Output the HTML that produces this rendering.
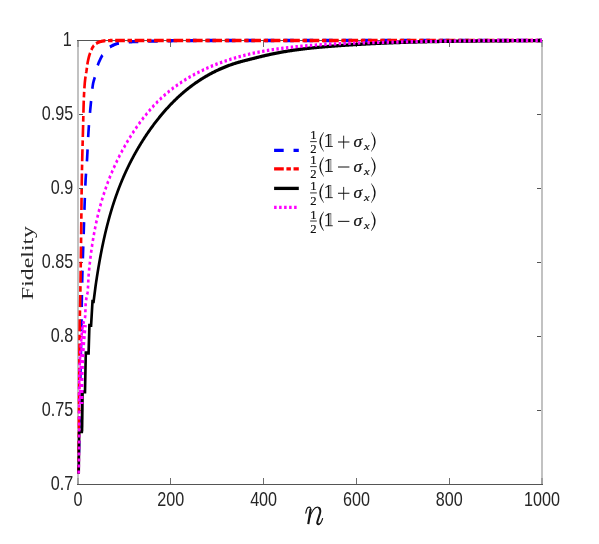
<!DOCTYPE html>
<html><head><meta charset="utf-8"><title>Fidelity</title>
<style>html,body{margin:0;padding:0;background:#fff;}body{width:599px;height:544px;overflow:hidden;font-family:"Liberation Sans",sans-serif;}svg{display:block;will-change:transform;}</style></head>
<body>
<svg width="599" height="544" viewBox="0 0 599 544">
<rect x="0" y="0" width="599" height="544" fill="#fff"/>
<g shape-rendering="crispEdges">
<rect x="77" y="40" width="2" height="445" fill="#c2c2c2"/>
<rect x="541" y="40" width="2" height="445" fill="#c2c2c2"/>
<rect x="77" y="40" width="466" height="1" fill="#555555"/>
<rect x="77" y="484" width="466" height="1" fill="#555555"/>
<rect x="79" y="114" width="4" height="1" fill="#555555"/>
<rect x="537" y="114" width="4" height="1" fill="#555555"/>
<rect x="79" y="188" width="4" height="1" fill="#555555"/>
<rect x="537" y="188" width="4" height="1" fill="#555555"/>
<rect x="79" y="262" width="4" height="1" fill="#555555"/>
<rect x="537" y="262" width="4" height="1" fill="#555555"/>
<rect x="79" y="336" width="4" height="1" fill="#555555"/>
<rect x="537" y="336" width="4" height="1" fill="#555555"/>
<rect x="79" y="410" width="4" height="1" fill="#555555"/>
<rect x="537" y="410" width="4" height="1" fill="#555555"/>
<rect x="77" y="478" width="2" height="6" fill="#a0a0a0"/>
<rect x="77" y="41" width="2" height="6" fill="#a0a0a0"/>
<rect x="170" y="478" width="1" height="6" fill="#6e6e6e"/>
<rect x="170" y="41" width="1" height="6" fill="#6e6e6e"/>
<rect x="263" y="478" width="1" height="6" fill="#6e6e6e"/>
<rect x="263" y="41" width="1" height="6" fill="#6e6e6e"/>
<rect x="356" y="478" width="1" height="6" fill="#6e6e6e"/>
<rect x="356" y="41" width="1" height="6" fill="#6e6e6e"/>
<rect x="449" y="478" width="1" height="6" fill="#6e6e6e"/>
<rect x="449" y="41" width="1" height="6" fill="#6e6e6e"/>
<rect x="541" y="478" width="2" height="6" fill="#a0a0a0"/>
<rect x="541" y="41" width="2" height="6" fill="#a0a0a0"/>
</g>
<g transform="scale(0.8,1)" fill="none" stroke-width="3.3" stroke-linejoin="miter" stroke-linecap="butt">
<path d="M98.12,473.50 L98.14,472.78 L98.16,472.06 L98.18,471.34 L98.20,470.62 L98.22,469.90 L98.24,469.18 L98.26,468.45 L98.28,467.73 L98.30,467.01 L98.32,466.29 L98.34,465.57 L98.36,464.85 L98.38,464.13 L98.40,463.41 L98.42,462.69 L98.44,461.97 L98.46,461.25 L98.47,460.53 L98.49,459.80 L98.51,459.08 L98.53,458.36 L98.55,457.64 L98.57,456.92 L98.59,456.20 L98.61,455.48 L98.63,454.76 L98.64,454.04 L98.66,453.32 L98.68,452.60 L98.70,451.88 L98.72,451.16 L98.74,450.43 L98.76,449.71 L98.77,448.99 L98.79,448.27 L98.81,447.55 L98.83,446.83 L98.85,446.11 L98.87,445.39 L98.88,444.67 L98.90,443.95 L98.92,443.23 L98.94,442.51 L98.96,441.78 L98.97,441.06 L98.99,440.34 L99.01,439.62 L99.03,438.90 L99.04,438.18 L99.06,437.46 L99.08,436.74 L99.10,436.02 L99.11,435.30 L99.13,434.58 L99.15,433.86 L99.16,433.13 L99.18,432.41 L99.20,431.69 L99.22,430.97 L99.23,430.25 L99.25,429.53 L99.27,428.81 L99.28,428.09 L99.30,427.37 L99.31,426.65 L99.33,425.93 L99.35,425.21 L99.36,424.48 L99.38,423.76 L99.40,423.04 L99.41,422.32 L99.43,421.60 L99.44,420.88 L99.46,420.16 L99.48,419.44 L99.49,418.72 L99.51,418.00 L99.52,417.28 L99.54,416.56 L99.56,415.83 L99.57,415.11 L99.59,414.39 L99.60,413.67 L99.62,412.95 L99.64,412.23 L99.65,411.51 L99.67,410.79 L99.68,410.07 L99.70,409.35 L99.71,408.63 L99.73,407.91 L99.75,407.18 L99.76,406.46 L99.78,405.74 L99.79,405.02 L99.81,404.30 L99.83,403.58 L99.84,402.86 L99.86,402.14 L99.87,401.42 L99.89,400.70 L99.91,399.98 L99.92,399.25 L99.94,398.53 L99.96,397.81 L99.97,397.09 L99.99,396.37 L100.00,395.65 L100.02,394.93 L100.04,394.21 L100.05,393.49 L100.07,392.77 L100.09,392.05 L100.10,391.33 L100.12,390.60 L100.14,389.88 L100.15,389.16 L100.17,388.44 L100.19,387.72 L100.20,387.00 L100.22,386.28 L100.24,385.56 L100.26,384.84 L100.27,384.12 L100.29,383.40 L100.31,382.68 L100.33,381.95 L100.34,381.23 L100.36,380.51 L100.38,379.79 L100.40,379.07 L100.42,378.35 L100.44,377.63 L100.45,376.91 L100.47,376.19 L100.49,375.47 L100.51,374.75 L100.53,374.03 L100.55,373.31 L100.57,372.58 L100.59,371.86 L100.61,371.14 L100.63,370.42 L100.65,369.70 L100.67,368.98 L100.69,368.26 L100.71,367.54 L100.73,366.82 L100.75,366.10 L100.78,365.38 L100.80,364.66 L100.82,363.94 L100.84,363.21 L100.86,362.49 L100.88,361.77 L100.90,361.05 L100.92,360.33 L100.95,359.61 L100.97,358.89 L100.99,358.17 L101.01,357.45 L101.03,356.73 L101.05,356.01 L101.07,355.29 L101.10,354.57 L101.12,353.84 L101.14,353.12 L101.16,352.40 L101.18,351.68 L101.20,350.96 L101.22,350.24 L101.25,349.52 L101.27,348.80 L101.29,348.08 L101.31,347.36 L101.33,346.64 L101.35,345.92 L101.37,345.20 L101.39,344.47 L101.41,343.75 L101.43,343.03 L101.45,342.31 L101.47,341.59 L101.49,340.87 L101.51,340.15 L101.53,339.43 L101.55,338.71 L101.57,337.99 L101.59,337.27 L101.61,336.55 L101.63,335.82 L101.64,335.10 L101.66,334.38 L101.68,333.66 L101.70,332.94 L101.71,332.22 L101.73,331.50 L101.75,330.78 L101.77,330.06 L101.78,329.34 L101.80,328.62 L101.81,327.90 L101.83,327.18 L101.84,326.45 L101.86,325.73 L101.87,325.01 L101.89,324.29 L101.90,323.57 L101.92,322.85 L101.93,322.13 L101.94,321.41 L101.96,320.69 L101.97,319.97 L101.98,319.25 L101.99,318.52 L102.00,317.80 L102.01,317.08 L102.03,316.36 L102.04,315.64 L102.05,314.92 L102.06,314.20 L102.07,313.48 L102.08,312.76 L102.09,312.04 L102.10,311.32 L102.11,310.59 L102.12,309.87 L102.13,309.15 L102.14,308.43 L102.15,307.71 L102.16,306.99 L102.17,306.27 L102.18,305.55 L102.20,304.83 L102.21,304.11 L102.22,303.39 L102.23,302.66 L102.24,301.94 L102.25,301.22 L102.27,300.50 L102.28,299.78 L102.29,299.06 L102.31,298.34 L102.32,297.62 L102.34,296.90 L102.35,296.18 L102.37,295.46 L102.38,294.73 L102.40,294.01 L102.41,293.29 L102.43,292.57 L102.45,291.85 L102.47,291.13 L102.48,290.41 L102.50,289.69 L102.52,288.97 L102.54,288.25 L102.56,287.53 L102.58,286.81 L102.60,286.09 L102.62,285.36 L102.64,284.64 L102.66,283.92 L102.68,283.20 L102.71,282.48 L102.73,281.76 L102.75,281.04 L102.77,280.32 L102.80,279.60 L102.82,278.88 L102.84,278.16 L102.87,277.44 L102.89,276.72 L102.91,276.00 L102.94,275.27 L102.96,274.55 L102.99,273.83 L103.01,273.11 L103.04,272.39 L103.07,271.67 L103.09,270.95 L103.12,270.23 L103.14,269.51 L103.17,268.79 L103.20,268.07 L103.22,267.35 L103.25,266.63 L103.28,265.91 L103.31,265.19 L103.33,264.46 L103.36,263.74 L103.39,263.02 L103.42,262.30 L103.45,261.58 L103.48,260.86 L103.50,260.14 L103.53,259.42 L103.56,258.70 L103.59,257.98 L103.62,257.26 L103.65,256.54 L103.68,255.82 L103.71,255.10 L103.74,254.38 L103.77,253.66 L103.80,252.93 L103.83,252.21 L103.86,251.49 L103.89,250.77 L103.92,250.05 L103.95,249.33 L103.98,248.61 L104.01,247.89 L104.04,247.17 L104.07,246.45 L104.10,245.73 L104.13,245.01 L104.16,244.29 L104.19,243.57 L104.22,242.85 L104.25,242.13 L104.28,241.41 L104.31,240.68 L104.34,239.96 L104.37,239.24 L104.40,238.52 L104.43,237.80 L104.46,237.08 L104.49,236.36 L104.52,235.64 L104.55,234.92 L104.58,234.20 L104.61,233.48 L104.64,232.76 L104.67,232.04 L104.70,231.32 L104.73,230.60 L104.76,229.88 L104.78,229.16 L104.81,228.43 L104.84,227.71 L104.87,226.99 L104.90,226.27 L104.93,225.55 L104.96,224.83 L104.98,224.11 L105.01,223.39 L105.04,222.67 L105.07,221.95 L105.10,221.23 L105.12,220.51 L105.15,219.79 L105.18,219.07 L105.21,218.35 L105.24,217.62 L105.26,216.90 L105.29,216.18 L105.32,215.46 L105.35,214.74 L105.38,214.02 L105.40,213.30 L105.43,212.58 L105.46,211.86 L105.49,211.14 L105.52,210.42 L105.55,209.70 L105.58,208.98 L105.61,208.26 L105.63,207.53 L105.66,206.81 L105.69,206.09 L105.72,205.37 L105.75,204.65 L105.78,203.93 L105.81,203.21 L105.85,202.49 L105.88,201.77 L105.91,201.05 L105.94,200.33 L105.97,199.61 L106.00,198.89 L106.04,198.17 L106.07,197.45 L106.10,196.73 L106.14,196.00 L106.17,195.28 L106.20,194.56 L106.24,193.84 L106.27,193.12 L106.31,192.40 L106.35,191.68 L106.38,190.96 L106.42,190.24 L106.46,189.52 L106.49,188.80 L106.53,188.08 L106.57,187.36 L106.61,186.64 L106.65,185.92 L106.69,185.20 L106.73,184.48 L106.77,183.76 L106.82,183.04 L106.86,182.32 L106.90,181.60 L106.95,180.88 L106.99,180.16 L107.04,179.44 L107.08,178.72 L107.14,178.00 L107.19,177.28 L107.25,176.56 L107.31,175.84 L107.37,175.13 L107.43,174.41 L107.49,173.69 L107.56,172.97 L107.63,172.25 L107.69,171.53 L107.76,170.81 L107.83,170.09 L107.90,169.37 L107.97,168.65 L108.04,167.94 L108.11,167.22 L108.18,166.50 L108.25,165.78 L108.31,165.06 L108.38,164.34 L108.45,163.62 L108.51,162.90 L108.57,162.18 L108.63,161.46 L108.69,160.74 L108.75,160.02 L108.80,159.30 L108.86,158.58 L108.91,157.87 L108.96,157.15 L109.01,156.43 L109.06,155.71 L109.11,154.99 L109.15,154.27 L109.20,153.55 L109.25,152.83 L109.29,152.11 L109.34,151.39 L109.38,150.67 L109.43,149.94 L109.47,149.22 L109.52,148.50 L109.56,147.78 L109.60,147.06 L109.65,146.34 L109.69,145.62 L109.73,144.90 L109.78,144.18 L109.82,143.46 L109.86,142.74 L109.91,142.02 L109.95,141.30 L110.00,140.58 L110.04,139.86 L110.09,139.14 L110.14,138.42 L110.18,137.70 L110.23,136.98 L110.28,136.26 L110.33,135.54 L110.38,134.82 L110.43,134.10 L110.49,133.38 L110.54,132.66 L110.59,131.94 L110.65,131.23 L110.71,130.51 L110.77,129.79 L110.83,129.07 L110.89,128.35 L110.95,127.63 L111.02,126.91 L111.08,126.19 L111.15,125.47 L111.21,124.75 L111.28,124.04 L111.35,123.32 L111.42,122.60 L111.49,121.88 L111.57,121.16 L111.64,120.44 L111.71,119.72 L111.79,119.00 L111.86,118.29 L111.94,117.57 L112.02,116.85 L112.09,116.13 L112.17,115.41 L112.25,114.69 L112.33,113.98 L112.41,113.26 L112.50,112.54 L112.58,111.82 L112.66,111.10 L112.74,110.39 L112.83,109.67 L112.91,108.95 L113.00,108.23 L113.08,107.51 L113.17,106.80 L113.26,106.08 L113.34,105.36 L113.43,104.64 L113.52,103.92 L113.60,103.21 L113.69,102.49 L113.78,101.77 L113.87,101.06 L113.96,100.34 L114.05,99.62 L114.13,98.90 L114.22,98.18 L114.30,97.46 L114.39,96.74 L114.47,96.02 L114.56,95.30 L114.64,94.58 L114.73,93.86 L114.81,93.14 L114.90,92.42 L114.99,91.71 L115.09,90.99 L115.19,90.27 L115.29,89.55 L115.39,88.84 L115.50,88.12 L115.62,87.41 L115.74,86.70 L115.86,85.98 L116.00,85.27 L116.13,84.57 L116.28,83.86 L116.45,83.16 L116.65,82.46 L116.87,81.76 L117.11,81.06 L117.36,80.37 L117.62,79.68 L117.88,78.98 L118.13,78.29 L118.37,77.59 L118.60,76.89 L118.82,76.19 L119.03,75.49 L119.23,74.79 L119.44,74.08 L119.63,73.37 L119.83,72.67 L120.03,71.96 L120.23,71.25 L120.43,70.55 L120.64,69.85 L120.85,69.14 L121.07,68.44 L121.29,67.75 L121.53,67.05 L121.77,66.36 L122.03,65.68 L122.29,65.00 L122.58,64.32 L122.90,63.65 L123.24,62.98 L123.60,62.32 L123.97,61.66 L124.35,61.00 L124.74,60.35 L125.13,59.70 L125.51,59.04 L125.90,58.39 L126.30,57.73 L126.71,57.09 L127.14,56.45 L127.59,55.83 L128.06,55.23 L128.55,54.64 L129.06,54.04 L129.59,53.45 L130.14,52.86 L130.70,52.28 L131.27,51.70 L131.87,51.13 L132.47,50.58 L133.09,50.03 L133.73,49.51 L134.37,49.00 L135.03,48.51 L135.70,48.04 L136.38,47.60 L137.07,47.18 L137.80,46.79 L138.57,46.42 L139.37,46.06 L140.18,45.72 L141.01,45.41 L141.83,45.10 L142.65,44.81 L143.48,44.53 L144.32,44.25 L145.17,43.98 L146.02,43.73 L146.88,43.51 L147.74,43.32 L148.61,43.16 L149.49,43.02 L150.37,42.90 L151.26,42.79 L152.16,42.68 L153.05,42.59 L153.95,42.50 L154.85,42.42 L155.75,42.34 L156.65,42.27 L157.54,42.20 L158.44,42.13 L159.34,42.07 L160.24,42.01 L161.14,41.95 L162.04,41.90 L162.94,41.85 L163.84,41.81 L164.74,41.76 L165.64,41.72 L166.54,41.69 L167.44,41.66 L168.34,41.62 L169.24,41.59 L170.14,41.56 L171.04,41.54 L171.94,41.51 L172.84,41.48 L173.74,41.46 L174.64,41.43 L175.54,41.41 L176.44,41.38 L177.34,41.36 L178.24,41.34 L179.14,41.32 L180.04,41.30 L180.94,41.28 L181.85,41.26 L182.75,41.24 L183.65,41.22 L184.55,41.20 L185.45,41.18 L186.35,41.17 L187.25,41.15 L188.15,41.13 L189.05,41.12 L189.96,41.10 L190.86,41.08 L191.76,41.07 L192.66,41.05 L193.56,41.04 L194.46,41.02 L195.36,41.01 L196.26,40.99 L197.16,40.98 L198.06,40.96 L198.97,40.95 L199.87,40.93 L200.77,40.92 L201.67,40.91 L202.57,40.89 L203.47,40.88 L204.37,40.87 L205.27,40.85 L206.17,40.84 L207.07,40.83 L207.98,40.82 L208.88,40.81 L209.78,40.80 L210.68,40.78 L211.58,40.77 L212.48,40.76 L213.38,40.75 L214.28,40.74 L215.19,40.73 L216.09,40.72 L216.99,40.72 L217.89,40.71 L218.79,40.70 L219.69,40.69 L220.59,40.68 L221.49,40.68 L222.39,40.67 L223.30,40.66 L224.20,40.65 L225.10,40.64 L226.00,40.64 L226.90,40.63 L227.80,40.62 L228.70,40.61 L229.60,40.60 L230.50,40.60 L231.41,40.59 L232.31,40.58 L233.21,40.57 L234.11,40.57 L235.01,40.56 L235.91,40.55 L236.81,40.55 L237.71,40.54 L238.62,40.54 L239.52,40.53 L240.42,40.53 L241.32,40.52 L242.22,40.52 L243.12,40.51 L244.02,40.51 L244.92,40.51 L245.82,40.51 L246.73,40.50 L247.63,40.50 L248.53,40.50 L249.43,40.50 L250.33,40.50 L251.23,40.50 L252.13,40.50 L253.03,40.50 L253.94,40.50 L254.84,40.50 L255.74,40.50 L256.64,40.50 L257.54,40.50 L258.44,40.50 L259.34,40.50 L260.24,40.50 L261.14,40.50 L262.05,40.50 L262.95,40.50 L263.85,40.50 L264.75,40.50 L265.65,40.50 L266.55,40.50 L267.45,40.50 L268.35,40.50 L269.26,40.50 L270.16,40.50 L271.06,40.50 L271.96,40.50 L272.86,40.50 L273.76,40.50 L274.66,40.50 L275.56,40.50 L276.46,40.50 L277.37,40.50 L278.27,40.50 L279.17,40.50 L280.07,40.50 L280.97,40.50 L281.87,40.50 L282.77,40.50 L283.67,40.50 L284.58,40.50 L285.48,40.50 L286.38,40.50 L287.28,40.50 L288.18,40.50 L289.08,40.50 L289.98,40.50 L290.88,40.50 L291.79,40.50 L292.69,40.50 L293.59,40.50 L294.49,40.50 L295.39,40.50 L296.29,40.50 L297.19,40.50 L298.09,40.50 L298.99,40.50 L299.90,40.50 L300.80,40.50 L301.70,40.50 L302.60,40.50 L303.50,40.50 L304.40,40.50 L305.30,40.50 L306.20,40.50 L307.11,40.50 L308.01,40.50 L308.91,40.50 L309.81,40.50 L310.71,40.50 L311.61,40.50 L312.51,40.50 L313.41,40.50 L314.31,40.50 L315.22,40.50 L316.12,40.50 L317.02,40.50 L317.92,40.50 L318.82,40.50 L319.72,40.50 L320.62,40.50 L321.52,40.50 L322.43,40.50 L323.33,40.50 L324.23,40.50 L325.13,40.50 L326.03,40.50 L326.93,40.50 L327.83,40.50 L328.73,40.50 L329.63,40.50 L330.54,40.50 L331.44,40.50 L332.34,40.50 L333.24,40.50 L334.14,40.50 L335.04,40.50 L335.94,40.50 L336.84,40.50 L337.75,40.50 L338.65,40.50 L339.55,40.50 L340.45,40.50 L341.35,40.50 L342.25,40.50 L343.15,40.50 L344.05,40.50 L344.96,40.50 L345.86,40.50 L346.76,40.50 L347.66,40.50 L348.56,40.50 L349.46,40.50 L350.36,40.50 L351.26,40.50 L352.16,40.50 L353.07,40.50 L353.97,40.50 L354.87,40.50 L355.77,40.50 L356.67,40.50 L357.57,40.50 L358.47,40.50 L359.37,40.50 L360.28,40.50 L361.18,40.50 L362.08,40.50 L362.98,40.50 L363.88,40.50 L364.78,40.50 L365.68,40.50 L366.58,40.50 L367.48,40.50 L368.39,40.50 L369.29,40.50 L370.19,40.50 L371.09,40.50 L371.99,40.50 L372.89,40.50 L373.79,40.50 L374.69,40.50 L375.60,40.50 L376.50,40.50 L377.40,40.50 L378.30,40.50 L379.20,40.50 L380.10,40.50 L381.00,40.50 L381.90,40.50 L382.81,40.50 L383.71,40.50 L384.61,40.50 L385.51,40.50 L386.41,40.50 L387.31,40.50 L388.21,40.50 L389.11,40.50 L390.01,40.50 L390.92,40.50 L391.82,40.50 L392.72,40.50 L393.62,40.50 L394.52,40.50 L395.42,40.50 L396.32,40.50 L397.22,40.50 L398.13,40.50 L399.03,40.50 L399.93,40.50 L400.83,40.50 L401.73,40.50 L402.63,40.50 L403.53,40.50 L404.43,40.50 L405.33,40.50 L406.24,40.50 L407.14,40.50 L408.04,40.50 L408.94,40.50 L409.84,40.50 L410.74,40.50 L411.64,40.50 L412.54,40.50 L413.45,40.50 L414.35,40.50 L415.25,40.50 L416.15,40.50 L417.05,40.50 L417.95,40.50 L418.85,40.50 L419.75,40.50 L420.66,40.50 L421.56,40.50 L422.46,40.50 L423.36,40.50 L424.26,40.50 L425.16,40.50 L426.06,40.50 L426.96,40.50 L427.86,40.50 L428.77,40.50 L429.67,40.50 L430.57,40.50 L431.47,40.50 L432.37,40.50 L433.27,40.50 L434.17,40.50 L435.07,40.50 L435.98,40.50 L436.88,40.50 L437.78,40.50 L438.68,40.50 L439.58,40.50 L440.48,40.50 L441.38,40.50 L442.28,40.50 L443.19,40.50 L444.09,40.50 L444.99,40.50 L445.89,40.50 L446.79,40.50 L447.69,40.50 L448.59,40.50 L449.49,40.50 L450.39,40.50 L451.30,40.50 L452.20,40.50 L453.10,40.50 L454.00,40.50 L454.90,40.50 L455.80,40.50 L456.70,40.50 L457.60,40.50 L458.51,40.50 L459.41,40.50 L460.31,40.50 L461.21,40.50 L462.11,40.50 L463.01,40.50 L463.91,40.50 L464.81,40.50 L465.71,40.50 L466.62,40.50 L467.52,40.50 L468.42,40.50 L469.32,40.50 L470.22,40.50 L471.12,40.50 L472.02,40.50 L472.92,40.50 L473.83,40.50 L474.73,40.50 L475.63,40.50 L476.53,40.50 L477.43,40.50 L478.33,40.50 L479.23,40.50 L480.13,40.50 L481.04,40.50 L481.94,40.50 L482.84,40.50 L483.74,40.50 L484.64,40.50 L485.54,40.50 L486.44,40.50 L487.34,40.50 L488.24,40.50 L489.15,40.50 L490.05,40.50 L490.95,40.50 L491.85,40.50 L492.75,40.50 L493.65,40.50 L494.55,40.50 L495.45,40.50 L496.36,40.50 L497.26,40.50 L498.16,40.50 L499.06,40.50 L499.96,40.50 L500.86,40.50 L501.76,40.50 L502.66,40.50 L503.57,40.50 L504.47,40.50 L505.37,40.50 L506.27,40.50 L507.17,40.50 L508.07,40.50 L508.97,40.50 L509.87,40.50 L510.78,40.50 L511.68,40.50 L512.58,40.50 L513.48,40.50 L514.38,40.50 L515.28,40.50 L516.18,40.50 L517.08,40.50 L517.98,40.50 L518.89,40.50 L519.79,40.50 L520.69,40.50 L521.59,40.50 L522.49,40.50 L523.39,40.50 L524.29,40.50 L525.19,40.50 L526.10,40.50 L527.00,40.50 L527.90,40.50 L528.80,40.50 L529.70,40.50 L530.60,40.50 L531.50,40.50 L532.40,40.50 L533.31,40.50 L534.21,40.50 L535.11,40.50 L536.01,40.50 L536.91,40.50 L537.81,40.50 L538.71,40.50 L539.61,40.50 L540.51,40.50 L541.42,40.50 L542.32,40.50 L543.22,40.50 L544.12,40.50 L545.02,40.50 L545.92,40.50 L546.82,40.50 L547.72,40.50 L548.63,40.50 L549.53,40.50 L550.43,40.50 L551.33,40.50 L552.23,40.50 L553.13,40.50 L554.03,40.50 L554.93,40.50 L555.84,40.50 L556.74,40.50 L557.64,40.50 L558.54,40.50 L559.44,40.50 L560.34,40.50 L561.24,40.50 L562.14,40.50 L563.05,40.50 L563.95,40.50 L564.85,40.50 L565.75,40.50 L566.65,40.50 L567.55,40.50 L568.45,40.50 L569.35,40.50 L570.25,40.50 L571.16,40.50 L572.06,40.50 L572.96,40.50 L573.86,40.50 L574.76,40.50 L575.66,40.50 L576.56,40.50 L577.46,40.50 L578.37,40.50 L579.27,40.50 L580.17,40.50 L581.07,40.50 L581.97,40.50 L582.87,40.50 L583.77,40.50 L584.67,40.50 L585.58,40.50 L586.48,40.50 L587.38,40.50 L588.28,40.50 L589.18,40.50 L590.08,40.50 L590.98,40.50 L591.88,40.50 L592.79,40.50 L593.69,40.50 L594.59,40.50 L595.49,40.50 L596.39,40.50 L597.29,40.50 L598.19,40.50 L599.09,40.50 L599.99,40.50 L600.90,40.50 L601.80,40.50 L602.70,40.50 L603.60,40.50 L604.50,40.50 L605.40,40.50 L606.30,40.50 L607.20,40.50 L608.11,40.50 L609.01,40.50 L609.91,40.50 L610.81,40.50 L611.71,40.50 L612.61,40.50 L613.51,40.50 L614.41,40.50 L615.32,40.50 L616.22,40.50 L617.12,40.50 L618.02,40.50 L618.92,40.50 L619.82,40.50 L620.72,40.50 L621.62,40.50 L622.53,40.50 L623.43,40.50 L624.33,40.50 L625.23,40.50 L626.13,40.50 L627.03,40.50 L627.93,40.50 L628.83,40.50 L629.74,40.50 L630.64,40.50 L631.54,40.50 L632.44,40.50 L633.34,40.50 L634.24,40.50 L635.14,40.50 L636.04,40.50 L636.94,40.50 L637.85,40.50 L638.75,40.50 L639.65,40.50 L640.55,40.50 L641.45,40.50 L642.35,40.50 L643.25,40.50 L644.15,40.50 L645.06,40.50 L645.96,40.50 L646.86,40.50 L647.76,40.50 L648.66,40.50 L649.56,40.50 L650.46,40.50 L651.36,40.50 L652.27,40.50 L653.17,40.50 L654.07,40.50 L654.97,40.50 L655.87,40.50 L656.77,40.50 L657.67,40.50 L658.57,40.50 L659.48,40.50 L660.38,40.50 L661.28,40.50 L662.18,40.50 L663.08,40.50 L663.98,40.50 L664.88,40.50 L665.78,40.50 L666.69,40.50 L667.59,40.50 L668.49,40.50 L669.39,40.50 L670.29,40.50 L671.19,40.50 L672.09,40.50 L672.99,40.50 L673.90,40.50 L674.80,40.50 L675.70,40.50 L676.60,40.50 L677.50,40.50" stroke="#0000ff" stroke-dasharray="12 12.3" stroke-dashoffset="3.50"/>
<path d="M98.12,473.50 L98.13,472.77 L98.14,472.03 L98.15,471.30 L98.16,470.57 L98.17,469.84 L98.18,469.10 L98.19,468.37 L98.19,467.64 L98.20,466.90 L98.21,466.17 L98.22,465.44 L98.23,464.70 L98.24,463.97 L98.25,463.24 L98.25,462.51 L98.26,461.77 L98.27,461.04 L98.28,460.31 L98.29,459.57 L98.30,458.84 L98.30,458.11 L98.31,457.38 L98.32,456.64 L98.33,455.91 L98.34,455.18 L98.35,454.44 L98.35,453.71 L98.36,452.98 L98.37,452.24 L98.38,451.51 L98.39,450.78 L98.39,450.05 L98.40,449.31 L98.41,448.58 L98.42,447.85 L98.43,447.11 L98.43,446.38 L98.44,445.65 L98.45,444.91 L98.46,444.18 L98.46,443.45 L98.47,442.72 L98.48,441.98 L98.49,441.25 L98.49,440.52 L98.50,439.78 L98.51,439.05 L98.52,438.32 L98.52,437.59 L98.53,436.85 L98.54,436.12 L98.55,435.39 L98.55,434.65 L98.56,433.92 L98.57,433.19 L98.57,432.45 L98.58,431.72 L98.59,430.99 L98.59,430.26 L98.60,429.52 L98.61,428.79 L98.61,428.06 L98.62,427.32 L98.63,426.59 L98.63,425.86 L98.64,425.12 L98.65,424.39 L98.65,423.66 L98.66,422.93 L98.67,422.19 L98.67,421.46 L98.68,420.73 L98.69,419.99 L98.69,419.26 L98.70,418.53 L98.71,417.80 L98.71,417.06 L98.72,416.33 L98.73,415.60 L98.73,414.86 L98.74,414.13 L98.75,413.40 L98.75,412.66 L98.76,411.93 L98.76,411.20 L98.77,410.47 L98.78,409.73 L98.78,409.00 L98.79,408.27 L98.80,407.53 L98.80,406.80 L98.81,406.07 L98.82,405.33 L98.82,404.60 L98.83,403.87 L98.83,403.14 L98.84,402.40 L98.85,401.67 L98.85,400.94 L98.86,400.20 L98.87,399.47 L98.87,398.74 L98.88,398.01 L98.89,397.27 L98.89,396.54 L98.90,395.81 L98.91,395.07 L98.91,394.34 L98.92,393.61 L98.93,392.87 L98.93,392.14 L98.94,391.41 L98.95,390.68 L98.95,389.94 L98.96,389.21 L98.97,388.48 L98.97,387.74 L98.98,387.01 L98.99,386.28 L98.99,385.54 L99.00,384.81 L99.01,384.08 L99.02,383.35 L99.02,382.61 L99.03,381.88 L99.04,381.15 L99.04,380.41 L99.05,379.68 L99.06,378.95 L99.06,378.22 L99.07,377.48 L99.08,376.75 L99.08,376.02 L99.09,375.28 L99.10,374.55 L99.10,373.82 L99.11,373.08 L99.12,372.35 L99.12,371.62 L99.13,370.89 L99.13,370.15 L99.14,369.42 L99.15,368.69 L99.15,367.95 L99.16,367.22 L99.17,366.49 L99.17,365.75 L99.18,365.02 L99.19,364.29 L99.19,363.56 L99.20,362.82 L99.21,362.09 L99.21,361.36 L99.22,360.62 L99.22,359.89 L99.23,359.16 L99.24,358.42 L99.24,357.69 L99.25,356.96 L99.26,356.23 L99.27,355.49 L99.27,354.76 L99.28,354.03 L99.29,353.29 L99.29,352.56 L99.30,351.83 L99.31,351.09 L99.31,350.36 L99.32,349.63 L99.33,348.90 L99.34,348.16 L99.34,347.43 L99.35,346.70 L99.36,345.96 L99.37,345.23 L99.37,344.50 L99.38,343.77 L99.39,343.03 L99.40,342.30 L99.41,341.57 L99.42,340.83 L99.42,340.10 L99.43,339.37 L99.44,338.63 L99.45,337.90 L99.46,337.17 L99.47,336.44 L99.48,335.70 L99.49,334.97 L99.49,334.24 L99.50,333.50 L99.51,332.77 L99.52,332.04 L99.53,331.31 L99.54,330.57 L99.55,329.84 L99.56,329.11 L99.57,328.37 L99.59,327.64 L99.60,326.91 L99.61,326.17 L99.62,325.44 L99.63,324.71 L99.64,323.98 L99.65,323.24 L99.67,322.51 L99.68,321.78 L99.70,321.04 L99.71,320.31 L99.73,319.58 L99.75,318.85 L99.76,318.11 L99.78,317.38 L99.80,316.65 L99.82,315.91 L99.84,315.18 L99.86,314.45 L99.88,313.72 L99.90,312.98 L99.92,312.25 L99.94,311.52 L99.96,310.79 L99.98,310.05 L100.00,309.32 L100.02,308.59 L100.04,307.85 L100.06,307.12 L100.08,306.39 L100.10,305.66 L100.12,304.92 L100.14,304.19 L100.16,303.46 L100.19,302.72 L100.21,301.99 L100.22,301.26 L100.24,300.53 L100.26,299.79 L100.28,299.06 L100.30,298.33 L100.32,297.59 L100.33,296.86 L100.35,296.13 L100.37,295.40 L100.38,294.66 L100.40,293.93 L100.41,293.20 L100.43,292.46 L100.44,291.73 L100.46,291.00 L100.47,290.27 L100.49,289.53 L100.50,288.80 L100.52,288.07 L100.53,287.33 L100.54,286.60 L100.56,285.87 L100.57,285.14 L100.59,284.40 L100.60,283.67 L100.62,282.94 L100.63,282.20 L100.64,281.47 L100.66,280.74 L100.67,280.01 L100.68,279.27 L100.70,278.54 L100.71,277.81 L100.72,277.07 L100.74,276.34 L100.75,275.61 L100.76,274.87 L100.78,274.14 L100.79,273.41 L100.80,272.68 L100.82,271.94 L100.83,271.21 L100.84,270.48 L100.85,269.74 L100.87,269.01 L100.88,268.28 L100.89,267.55 L100.90,266.81 L100.92,266.08 L100.93,265.35 L100.94,264.61 L100.95,263.88 L100.97,263.15 L100.98,262.42 L100.99,261.68 L101.00,260.95 L101.02,260.22 L101.03,259.48 L101.04,258.75 L101.05,258.02 L101.06,257.28 L101.08,256.55 L101.09,255.82 L101.10,255.09 L101.11,254.35 L101.12,253.62 L101.14,252.89 L101.15,252.15 L101.16,251.42 L101.17,250.69 L101.18,249.96 L101.19,249.22 L101.21,248.49 L101.22,247.76 L101.23,247.02 L101.24,246.29 L101.25,245.56 L101.26,244.82 L101.28,244.09 L101.29,243.36 L101.30,242.63 L101.31,241.89 L101.32,241.16 L101.33,240.43 L101.35,239.69 L101.36,238.96 L101.37,238.23 L101.38,237.50 L101.39,236.76 L101.40,236.03 L101.42,235.30 L101.43,234.56 L101.44,233.83 L101.45,233.10 L101.46,232.37 L101.47,231.63 L101.49,230.90 L101.50,230.17 L101.51,229.43 L101.52,228.70 L101.53,227.97 L101.54,227.23 L101.55,226.50 L101.57,225.77 L101.58,225.04 L101.59,224.30 L101.60,223.57 L101.61,222.84 L101.62,222.10 L101.63,221.37 L101.64,220.64 L101.65,219.91 L101.66,219.17 L101.67,218.44 L101.68,217.71 L101.69,216.97 L101.70,216.24 L101.71,215.51 L101.72,214.77 L101.73,214.04 L101.74,213.31 L101.75,212.58 L101.76,211.84 L101.77,211.11 L101.78,210.38 L101.79,209.64 L101.80,208.91 L101.81,208.18 L101.82,207.45 L101.83,206.71 L101.84,205.98 L101.85,205.25 L101.86,204.51 L101.87,203.78 L101.88,203.05 L101.89,202.31 L101.90,201.58 L101.91,200.85 L101.92,200.12 L101.93,199.38 L101.94,198.65 L101.95,197.92 L101.96,197.18 L101.97,196.45 L101.98,195.72 L102.00,194.99 L102.01,194.25 L102.02,193.52 L102.03,192.79 L102.04,192.05 L102.05,191.32 L102.06,190.59 L102.08,189.85 L102.09,189.12 L102.10,188.39 L102.11,187.66 L102.12,186.92 L102.14,186.19 L102.15,185.46 L102.16,184.72 L102.18,183.99 L102.19,183.26 L102.20,182.53 L102.22,181.79 L102.23,181.06 L102.24,180.33 L102.26,179.59 L102.27,178.86 L102.29,178.13 L102.30,177.40 L102.32,176.66 L102.34,175.93 L102.35,175.20 L102.37,174.46 L102.39,173.73 L102.40,173.00 L102.42,172.27 L102.44,171.53 L102.46,170.80 L102.48,170.07 L102.49,169.33 L102.51,168.60 L102.53,167.87 L102.55,167.14 L102.57,166.40 L102.59,165.67 L102.61,164.94 L102.63,164.20 L102.65,163.47 L102.67,162.74 L102.69,162.01 L102.71,161.27 L102.73,160.54 L102.76,159.81 L102.78,159.07 L102.80,158.34 L102.82,157.61 L102.84,156.88 L102.86,156.14 L102.89,155.41 L102.91,154.68 L102.93,153.95 L102.96,153.21 L102.98,152.48 L103.00,151.75 L103.03,151.01 L103.05,150.28 L103.08,149.55 L103.10,148.82 L103.13,148.08 L103.15,147.35 L103.18,146.62 L103.20,145.89 L103.23,145.15 L103.25,144.42 L103.28,143.69 L103.30,142.95 L103.33,142.22 L103.35,141.49 L103.38,140.76 L103.40,140.02 L103.43,139.29 L103.46,138.56 L103.48,137.83 L103.51,137.09 L103.53,136.36 L103.56,135.63 L103.58,134.90 L103.61,134.16 L103.63,133.43 L103.66,132.70 L103.68,131.96 L103.71,131.23 L103.73,130.50 L103.76,129.77 L103.78,129.03 L103.81,128.30 L103.83,127.57 L103.85,126.83 L103.87,126.10 L103.90,125.37 L103.92,124.64 L103.94,123.90 L103.96,123.17 L103.98,122.44 L104.00,121.70 L104.03,120.97 L104.05,120.24 L104.07,119.51 L104.09,118.77 L104.11,118.04 L104.13,117.31 L104.15,116.57 L104.17,115.84 L104.20,115.11 L104.22,114.38 L104.24,113.64 L104.26,112.91 L104.29,112.18 L104.31,111.44 L104.33,110.71 L104.36,109.98 L104.38,109.25 L104.41,108.51 L104.43,107.78 L104.46,107.05 L104.49,106.32 L104.51,105.58 L104.54,104.85 L104.57,104.12 L104.60,103.39 L104.63,102.65 L104.66,101.92 L104.70,101.19 L104.73,100.46 L104.76,99.72 L104.80,98.99 L104.84,98.26 L104.87,97.53 L104.91,96.79 L104.95,96.06 L105.00,95.33 L105.04,94.60 L105.09,93.86 L105.13,93.13 L105.18,92.40 L105.23,91.67 L105.29,90.94 L105.34,90.20 L105.40,89.47 L105.45,88.74 L105.51,88.01 L105.57,87.28 L105.64,86.55 L105.70,85.82 L105.77,85.09 L105.84,84.36 L105.91,83.63 L105.99,82.90 L106.08,82.17 L106.17,81.44 L106.27,80.71 L106.38,79.98 L106.49,79.25 L106.60,78.52 L106.72,77.80 L106.84,77.07 L106.97,76.34 L107.09,75.62 L107.24,74.89 L107.39,74.17 L107.55,73.45 L107.71,72.73 L107.88,72.01 L108.03,71.28 L108.17,70.56 L108.30,69.83 L108.42,69.11 L108.53,68.38 L108.65,67.65 L108.76,66.92 L108.87,66.19 L108.99,65.47 L109.12,64.74 L109.25,64.02 L109.40,63.30 L109.56,62.58 L109.73,61.85 L109.91,61.14 L110.10,60.42 L110.30,59.70 L110.51,58.99 L110.72,58.27 L110.94,57.56 L111.17,56.85 L111.41,56.15 L111.67,55.44 L111.93,54.74 L112.21,54.04 L112.51,53.35 L112.81,52.66 L113.13,51.97 L113.47,51.28 L113.82,50.60 L114.18,49.92 L114.56,49.25 L114.97,48.60 L115.39,47.95 L115.85,47.32 L116.34,46.70 L116.87,46.08 L117.44,45.50 L118.04,44.97 L118.69,44.47 L119.41,43.99 L120.16,43.55 L120.93,43.17 L121.73,42.83 L122.56,42.50 L123.40,42.20 L124.27,41.93 L125.14,41.69 L126.02,41.50 L126.90,41.33 L127.79,41.17 L128.70,41.02 L129.61,40.89 L130.52,40.78 L131.43,40.70 L132.35,40.65 L133.26,40.62 L134.17,40.60 L135.08,40.57 L136.00,40.55 L136.92,40.54 L137.84,40.52 L138.75,40.51 L139.67,40.50 L140.59,40.50 L141.51,40.50 L142.42,40.50 L143.34,40.50 L144.25,40.50 L145.17,40.50 L146.09,40.50 L147.00,40.50 L147.92,40.50 L148.83,40.50 L149.75,40.50 L150.67,40.50 L151.58,40.50 L152.50,40.50 L153.41,40.50 L154.33,40.50 L155.25,40.50 L156.16,40.50 L157.08,40.50 L158.00,40.50 L158.91,40.50 L159.83,40.50 L160.74,40.50 L161.66,40.50 L162.58,40.50 L163.49,40.50 L164.41,40.50 L165.32,40.50 L166.24,40.50 L167.16,40.50 L168.07,40.50 L168.99,40.50 L169.90,40.50 L170.82,40.50 L171.74,40.50 L172.65,40.50 L173.57,40.50 L174.48,40.50 L175.40,40.50 L176.32,40.50 L177.23,40.50 L178.15,40.50 L179.07,40.50 L179.98,40.50 L180.90,40.50 L181.81,40.50 L182.73,40.50 L183.65,40.50 L184.56,40.50 L185.48,40.50 L186.39,40.50 L187.31,40.50 L188.23,40.50 L189.14,40.50 L190.06,40.50 L190.97,40.50 L191.89,40.50 L192.81,40.50 L193.72,40.50 L194.64,40.50 L195.56,40.50 L196.47,40.50 L197.39,40.50 L198.30,40.50 L199.22,40.50 L200.14,40.50 L201.05,40.50 L201.97,40.50 L202.88,40.50 L203.80,40.50 L204.72,40.50 L205.63,40.50 L206.55,40.50 L207.46,40.50 L208.38,40.50 L209.30,40.50 L210.21,40.50 L211.13,40.50 L212.04,40.50 L212.96,40.50 L213.88,40.50 L214.79,40.50 L215.71,40.50 L216.63,40.50 L217.54,40.50 L218.46,40.50 L219.37,40.50 L220.29,40.50 L221.21,40.50 L222.12,40.50 L223.04,40.50 L223.95,40.50 L224.87,40.50 L225.79,40.50 L226.70,40.50 L227.62,40.50 L228.54,40.50 L229.45,40.50 L230.37,40.50 L231.28,40.50 L232.20,40.50 L233.12,40.50 L234.03,40.50 L234.95,40.50 L235.86,40.50 L236.78,40.50 L237.70,40.50 L238.61,40.50 L239.53,40.50 L240.44,40.50 L241.36,40.50 L242.28,40.50 L243.19,40.50 L244.11,40.50 L245.03,40.50 L245.94,40.50 L246.86,40.50 L247.77,40.50 L248.69,40.50 L249.61,40.50 L250.52,40.50 L251.44,40.50 L252.35,40.50 L253.27,40.50 L254.19,40.50 L255.10,40.50 L256.02,40.50 L256.93,40.50 L257.85,40.50 L258.77,40.50 L259.68,40.50 L260.60,40.50 L261.52,40.50 L262.43,40.50 L263.35,40.50 L264.26,40.50 L265.18,40.50 L266.10,40.50 L267.01,40.50 L267.93,40.50 L268.84,40.50 L269.76,40.50 L270.68,40.50 L271.59,40.50 L272.51,40.50 L273.43,40.50 L274.34,40.50 L275.26,40.50 L276.17,40.50 L277.09,40.50 L278.01,40.50 L278.92,40.50 L279.84,40.50 L280.75,40.50 L281.67,40.50 L282.59,40.50 L283.50,40.50 L284.42,40.50 L285.33,40.50 L286.25,40.50 L287.17,40.50 L288.08,40.50 L289.00,40.50 L289.92,40.50 L290.83,40.50 L291.75,40.50 L292.66,40.50 L293.58,40.50 L294.50,40.50 L295.41,40.50 L296.33,40.50 L297.24,40.50 L298.16,40.50 L299.08,40.50 L299.99,40.50 L300.91,40.50 L301.83,40.50 L302.74,40.50 L303.66,40.50 L304.57,40.50 L305.49,40.50 L306.41,40.50 L307.32,40.50 L308.24,40.50 L309.15,40.50 L310.07,40.50 L310.99,40.50 L311.90,40.50 L312.82,40.50 L313.74,40.50 L314.65,40.50 L315.57,40.50 L316.48,40.50 L317.40,40.50 L318.32,40.50 L319.23,40.50 L320.15,40.50 L321.06,40.50 L321.98,40.50 L322.90,40.50 L323.81,40.50 L324.73,40.50 L325.65,40.50 L326.56,40.50 L327.48,40.50 L328.39,40.50 L329.31,40.50 L330.23,40.50 L331.14,40.50 L332.06,40.50 L332.97,40.50 L333.89,40.50 L334.81,40.50 L335.72,40.50 L336.64,40.50 L337.56,40.50 L338.47,40.50 L339.39,40.50 L340.30,40.50 L341.22,40.50 L342.14,40.50 L343.05,40.50 L343.97,40.50 L344.89,40.50 L345.80,40.50 L346.72,40.50 L347.63,40.50 L348.55,40.50 L349.47,40.50 L350.38,40.50 L351.30,40.50 L352.21,40.50 L353.13,40.50 L354.05,40.50 L354.96,40.50 L355.88,40.50 L356.80,40.50 L357.71,40.50 L358.63,40.50 L359.54,40.50 L360.46,40.50 L361.38,40.50 L362.29,40.50 L363.21,40.50 L364.12,40.50 L365.04,40.50 L365.96,40.50 L366.87,40.50 L367.79,40.50 L368.71,40.50 L369.62,40.50 L370.54,40.50 L371.45,40.50 L372.37,40.50 L373.29,40.50 L374.20,40.50 L375.12,40.50 L376.04,40.50 L376.95,40.50 L377.87,40.50 L378.78,40.50 L379.70,40.50 L380.62,40.50 L381.53,40.50 L382.45,40.50 L383.36,40.50 L384.28,40.50 L385.20,40.50 L386.11,40.50 L387.03,40.50 L387.95,40.50 L388.86,40.50 L389.78,40.50 L390.69,40.50 L391.61,40.50 L392.53,40.50 L393.44,40.50 L394.36,40.50 L395.28,40.50 L396.19,40.50 L397.11,40.50 L398.02,40.50 L398.94,40.50 L399.86,40.50 L400.77,40.50 L401.69,40.50 L402.61,40.50 L403.52,40.50 L404.44,40.50 L405.35,40.50 L406.27,40.50 L407.19,40.50 L408.10,40.50 L409.02,40.50 L409.93,40.50 L410.85,40.50 L411.77,40.50 L412.68,40.50 L413.60,40.50 L414.52,40.50 L415.43,40.50 L416.35,40.50 L417.26,40.50 L418.18,40.50 L419.10,40.50 L420.01,40.50 L420.93,40.50 L421.85,40.50 L422.76,40.50 L423.68,40.50 L424.59,40.50 L425.51,40.50 L426.43,40.50 L427.34,40.50 L428.26,40.50 L429.18,40.50 L430.09,40.50 L431.01,40.50 L431.92,40.50 L432.84,40.50 L433.76,40.50 L434.67,40.50 L435.59,40.50 L436.51,40.50 L437.42,40.50 L438.34,40.50 L439.25,40.50 L440.17,40.50 L441.09,40.50 L442.00,40.50 L442.92,40.50 L443.84,40.50 L444.75,40.50 L445.67,40.50 L446.58,40.50 L447.50,40.50 L448.42,40.50 L449.33,40.50 L450.25,40.50 L451.17,40.50 L452.08,40.50 L453.00,40.50 L453.91,40.50 L454.83,40.50 L455.75,40.50 L456.66,40.50 L457.58,40.50 L458.49,40.50 L459.41,40.50 L460.33,40.50 L461.24,40.50 L462.16,40.50 L463.08,40.50 L463.99,40.50 L464.91,40.50 L465.82,40.50 L466.74,40.50 L467.66,40.50 L468.57,40.50 L469.49,40.50 L470.41,40.50 L471.32,40.50 L472.24,40.50 L473.16,40.50 L474.07,40.50 L474.99,40.50 L475.90,40.50 L476.82,40.50 L477.74,40.50 L478.65,40.50 L479.57,40.50 L480.49,40.50 L481.40,40.50 L482.32,40.50 L483.23,40.50 L484.15,40.50 L485.07,40.50 L485.98,40.50 L486.90,40.50 L487.82,40.50 L488.73,40.50 L489.65,40.50 L490.56,40.50 L491.48,40.50 L492.40,40.50 L493.31,40.50 L494.23,40.50 L495.15,40.50 L496.06,40.50 L496.98,40.50 L497.89,40.50 L498.81,40.50 L499.73,40.50 L500.64,40.50 L501.56,40.50 L502.48,40.50 L503.39,40.50 L504.31,40.50 L505.22,40.50 L506.14,40.50 L507.06,40.50 L507.97,40.50 L508.89,40.50 L509.81,40.50 L510.72,40.50 L511.64,40.50 L512.55,40.50 L513.47,40.50 L514.39,40.50 L515.30,40.50 L516.22,40.50 L517.14,40.50 L518.05,40.50 L518.97,40.50 L519.89,40.50 L520.80,40.50 L521.72,40.50 L522.63,40.50 L523.55,40.50 L524.47,40.50 L525.38,40.50 L526.30,40.50 L527.22,40.50 L528.13,40.50 L529.05,40.50 L529.96,40.50 L530.88,40.50 L531.80,40.50 L532.71,40.50 L533.63,40.50 L534.55,40.50 L535.46,40.50 L536.38,40.50 L537.29,40.50 L538.21,40.50 L539.13,40.50 L540.04,40.50 L540.96,40.50 L541.88,40.50 L542.79,40.50 L543.71,40.50 L544.63,40.50 L545.54,40.50 L546.46,40.50 L547.37,40.50 L548.29,40.50 L549.21,40.50 L550.12,40.50 L551.04,40.50 L551.96,40.50 L552.87,40.50 L553.79,40.50 L554.70,40.50 L555.62,40.50 L556.54,40.50 L557.45,40.50 L558.37,40.50 L559.29,40.50 L560.20,40.50 L561.12,40.50 L562.04,40.50 L562.95,40.50 L563.87,40.50 L564.78,40.50 L565.70,40.50 L566.62,40.50 L567.53,40.50 L568.45,40.50 L569.37,40.50 L570.28,40.50 L571.20,40.50 L572.12,40.50 L573.03,40.50 L573.95,40.50 L574.86,40.50 L575.78,40.50 L576.70,40.50 L577.61,40.50 L578.53,40.50 L579.45,40.50 L580.36,40.50 L581.28,40.50 L582.19,40.50 L583.11,40.50 L584.03,40.50 L584.94,40.50 L585.86,40.50 L586.78,40.50 L587.69,40.50 L588.61,40.50 L589.53,40.50 L590.44,40.50 L591.36,40.50 L592.27,40.50 L593.19,40.50 L594.11,40.50 L595.02,40.50 L595.94,40.50 L596.86,40.50 L597.77,40.50 L598.69,40.50 L599.61,40.50 L600.52,40.50 L601.44,40.50 L602.35,40.50 L603.27,40.50 L604.19,40.50 L605.10,40.50 L606.02,40.50 L606.94,40.50 L607.85,40.50 L608.77,40.50 L609.69,40.50 L610.60,40.50 L611.52,40.50 L612.43,40.50 L613.35,40.50 L614.27,40.50 L615.18,40.50 L616.10,40.50 L617.02,40.50 L617.93,40.50 L618.85,40.50 L619.77,40.50 L620.68,40.50 L621.60,40.50 L622.52,40.50 L623.43,40.50 L624.35,40.50 L625.26,40.50 L626.18,40.50 L627.10,40.50 L628.01,40.50 L628.93,40.50 L629.85,40.50 L630.76,40.50 L631.68,40.50 L632.60,40.50 L633.51,40.50 L634.43,40.50 L635.34,40.50 L636.26,40.50 L637.18,40.50 L638.09,40.50 L639.01,40.50 L639.93,40.50 L640.84,40.50 L641.76,40.50 L642.68,40.50 L643.59,40.50 L644.51,40.50 L645.43,40.50 L646.34,40.50 L647.26,40.50 L648.17,40.50 L649.09,40.50 L650.01,40.50 L650.92,40.50 L651.84,40.50 L652.76,40.50 L653.67,40.50 L654.59,40.50 L655.51,40.50 L656.42,40.50 L657.34,40.50 L658.25,40.50 L659.17,40.50 L660.09,40.50 L661.00,40.50 L661.92,40.50 L662.84,40.50 L663.75,40.50 L664.67,40.50 L665.59,40.50 L666.50,40.50 L667.42,40.50 L668.34,40.50 L669.25,40.50 L670.17,40.50 L671.08,40.50 L672.00,40.50 L672.92,40.50 L673.83,40.50 L674.75,40.50 L675.67,40.50 L676.58,40.50 L677.50,40.50" stroke="#ff0000" stroke-dasharray="12.1 3.3 5.6 3.3" stroke-dashoffset="3.68"/>
<path d="M98.38,473.50 L99.00,431.50 L102.25,431.50 L103.00,391.80 L106.25,391.80 L107.25,353.00 L110.75,353.00 L111.75,325.40 L113.87,325.40 L115.62,301.50 L117.00,301.50 L119.56,285.50 L119.68,284.86 L119.80,284.22 L119.91,283.58 L120.03,282.94 L120.15,282.30 L120.27,281.66 L120.39,281.01 L120.51,280.37 L120.63,279.73 L120.76,279.09 L120.88,278.45 L121.00,277.81 L121.12,277.17 L121.25,276.53 L121.37,275.89 L121.50,275.24 L121.63,274.60 L121.75,273.96 L121.88,273.32 L122.01,272.68 L122.14,272.04 L122.27,271.39 L122.40,270.75 L122.53,270.11 L122.66,269.47 L122.80,268.83 L122.93,268.19 L123.06,267.54 L123.20,266.90 L123.34,266.26 L123.47,265.62 L123.61,264.98 L123.75,264.34 L123.89,263.70 L124.03,263.05 L124.17,262.41 L124.31,261.77 L124.45,261.13 L124.59,260.49 L124.74,259.85 L124.88,259.21 L125.03,258.57 L125.17,257.93 L125.32,257.28 L125.47,256.64 L125.62,256.00 L125.77,255.36 L125.92,254.72 L126.07,254.08 L126.23,253.44 L126.38,252.80 L126.53,252.16 L126.69,251.52 L126.85,250.88 L127.00,250.24 L127.16,249.60 L127.32,248.96 L127.48,248.32 L127.64,247.68 L127.81,247.04 L127.97,246.41 L128.13,245.77 L128.30,245.13 L128.47,244.49 L128.63,243.85 L128.80,243.21 L128.97,242.58 L129.14,241.94 L129.31,241.30 L129.49,240.66 L129.66,240.03 L129.84,239.39 L130.01,238.75 L130.19,238.12 L130.37,237.48 L130.55,236.84 L130.73,236.21 L130.91,235.57 L131.09,234.94 L131.28,234.30 L131.46,233.66 L131.65,233.03 L131.83,232.40 L132.02,231.76 L132.21,231.13 L132.40,230.49 L132.60,229.86 L132.79,229.23 L132.98,228.59 L133.18,227.96 L133.38,227.33 L133.57,226.70 L133.77,226.06 L133.97,225.43 L134.18,224.80 L134.38,224.17 L134.58,223.54 L134.79,222.91 L135.00,222.28 L135.21,221.65 L135.42,221.02 L135.63,220.39 L135.84,219.76 L136.05,219.13 L136.27,218.50 L136.48,217.87 L136.70,217.25 L136.92,216.62 L137.14,215.99 L137.36,215.37 L137.59,214.74 L137.81,214.11 L138.04,213.49 L138.27,212.86 L138.49,212.24 L138.72,211.61 L138.96,210.99 L139.19,210.37 L139.42,209.74 L139.66,209.12 L139.90,208.50 L140.14,207.88 L140.38,207.25 L140.62,206.63 L140.86,206.01 L141.11,205.39 L141.35,204.77 L141.60,204.15 L141.85,203.53 L142.10,202.91 L142.35,202.29 L142.61,201.68 L142.86,201.06 L143.12,200.44 L143.38,199.83 L143.64,199.21 L143.90,198.59 L144.17,197.98 L144.43,197.36 L144.70,196.75 L144.97,196.14 L145.24,195.52 L145.51,194.91 L145.78,194.30 L146.06,193.69 L146.33,193.07 L146.61,192.46 L146.89,191.85 L147.17,191.24 L147.45,190.63 L147.74,190.03 L148.03,189.42 L148.31,188.81 L148.60,188.20 L148.89,187.60 L149.19,186.99 L149.48,186.38 L149.78,185.78 L150.08,185.18 L150.38,184.57 L150.68,183.97 L150.98,183.37 L151.29,182.76 L151.60,182.16 L151.91,181.56 L152.22,180.96 L152.53,180.36 L152.85,179.76 L153.16,179.16 L153.48,178.56 L153.80,177.97 L154.12,177.37 L154.44,176.77 L154.77,176.18 L155.10,175.58 L155.42,174.99 L155.76,174.39 L156.09,173.80 L156.42,173.21 L156.76,172.62 L157.09,172.03 L157.43,171.43 L157.78,170.84 L158.12,170.26 L158.46,169.67 L158.81,169.08 L159.16,168.49 L159.51,167.90 L159.86,167.32 L160.21,166.73 L160.57,166.15 L160.92,165.56 L161.28,164.98 L161.64,164.40 L162.01,163.82 L162.37,163.23 L162.74,162.65 L163.10,162.07 L163.47,161.50 L163.84,160.92 L164.22,160.34 L164.59,159.76 L164.97,159.19 L165.35,158.61 L165.73,158.03 L166.11,157.46 L166.49,156.89 L166.88,156.31 L167.26,155.74 L167.65,155.17 L168.04,154.60 L168.44,154.03 L168.83,153.46 L169.23,152.89 L169.62,152.33 L170.02,151.76 L170.43,151.19 L170.83,150.63 L171.23,150.06 L171.64,149.50 L172.05,148.94 L172.46,148.38 L172.87,147.82 L173.28,147.25 L173.70,146.70 L174.12,146.14 L174.54,145.58 L174.96,145.02 L175.38,144.46 L175.80,143.91 L176.23,143.35 L176.66,142.80 L177.09,142.25 L177.52,141.70 L177.95,141.14 L178.39,140.59 L178.82,140.04 L179.26,139.50 L179.70,138.95 L180.14,138.40 L180.59,137.85 L181.03,137.31 L181.48,136.76 L181.93,136.22 L182.38,135.68 L182.83,135.14 L183.28,134.59 L183.74,134.05 L184.20,133.52 L184.66,132.98 L185.12,132.44 L185.58,131.90 L186.05,131.37 L186.51,130.83 L186.98,130.30 L187.45,129.77 L187.92,129.23 L188.40,128.70 L188.87,128.17 L189.35,127.64 L189.83,127.12 L190.31,126.59 L190.79,126.06 L191.28,125.54 L191.76,125.01 L192.25,124.49 L192.74,123.97 L193.23,123.45 L193.72,122.93 L194.22,122.41 L194.72,121.89 L195.22,121.37 L195.72,120.86 L196.22,120.34 L196.72,119.83 L197.23,119.32 L197.74,118.81 L198.24,118.30 L198.76,117.79 L199.27,117.28 L199.78,116.77 L200.30,116.27 L200.82,115.76 L201.34,115.26 L201.86,114.76 L202.39,114.26 L202.91,113.76 L203.44,113.26 L203.97,112.77 L204.50,112.27 L205.04,111.78 L205.57,111.29 L206.11,110.80 L206.65,110.31 L207.19,109.82 L207.73,109.34 L208.28,108.85 L208.83,108.37 L209.38,107.89 L209.93,107.41 L210.48,106.93 L211.03,106.45 L211.59,105.97 L212.15,105.50 L212.71,105.03 L213.27,104.56 L213.84,104.09 L214.40,103.62 L214.97,103.15 L215.54,102.69 L216.11,102.22 L216.69,101.76 L217.26,101.30 L217.84,100.85 L218.42,100.39 L219.00,99.93 L219.59,99.48 L220.17,99.03 L220.76,98.58 L221.35,98.13 L221.94,97.69 L222.54,97.24 L223.13,96.80 L223.73,96.36 L224.33,95.92 L224.93,95.48 L225.54,95.05 L226.14,94.62 L226.75,94.18 L227.36,93.76 L227.97,93.33 L228.59,92.90 L229.20,92.48 L229.82,92.06 L230.44,91.64 L231.06,91.22 L231.69,90.80 L232.31,90.39 L232.94,89.98 L233.57,89.57 L234.20,89.16 L234.84,88.76 L235.48,88.35 L236.11,87.95 L236.76,87.55 L237.40,87.16 L238.04,86.76 L238.69,86.37 L239.34,85.98 L239.99,85.59 L240.64,85.20 L241.30,84.82 L241.96,84.44 L242.62,84.06 L243.28,83.68 L243.94,83.30 L244.61,82.93 L245.27,82.56 L245.94,82.19 L246.61,81.82 L247.29,81.46 L247.96,81.10 L248.64,80.74 L249.32,80.38 L250.00,80.03 L250.68,79.67 L251.37,79.32 L252.05,78.98 L252.74,78.63 L253.43,78.29 L254.12,77.95 L254.82,77.61 L255.51,77.27 L256.21,76.94 L256.91,76.61 L257.61,76.28 L258.31,75.95 L259.02,75.63 L259.73,75.30 L260.43,74.99 L261.14,74.67 L261.85,74.35 L262.57,74.04 L263.28,73.73 L264.00,73.43 L264.72,73.12 L265.44,72.82 L266.16,72.52 L266.88,72.22 L267.61,71.93 L268.33,71.64 L269.06,71.35 L269.79,71.06 L270.52,70.78 L271.26,70.50 L271.99,70.22 L272.73,69.94 L273.47,69.67 L274.20,69.40 L274.95,69.13 L275.69,68.87 L276.43,68.60 L277.18,68.34 L277.92,68.09 L278.67,67.83 L279.42,67.58 L280.17,67.33 L280.93,67.09 L281.68,66.84 L282.44,66.60 L283.19,66.36 L283.95,66.13 L284.71,65.89 L285.47,65.66 L286.23,65.44 L287.00,65.21 L287.76,64.99 L288.53,64.77 L289.30,64.56 L290.07,64.34 L290.84,64.13 L291.61,63.93 L292.38,63.72 L293.16,63.52 L293.93,63.32 L294.71,63.13 L295.49,62.94 L296.27,62.75 L297.05,62.56 L297.83,62.38 L298.61,62.19 L299.40,62.02 L300.18,61.84 L300.97,61.67 L301.76,61.49 L302.54,61.32 L303.33,61.16 L304.12,60.99 L304.91,60.83 L305.70,60.66 L306.49,60.50 L307.28,60.34 L308.07,60.18 L308.87,60.02 L309.66,59.86 L310.45,59.70 L311.24,59.54 L312.03,59.39 L312.83,59.23 L313.62,59.07 L314.41,58.91 L315.20,58.75 L315.99,58.59 L316.78,58.43 L317.57,58.27 L318.36,58.11 L319.15,57.95 L319.94,57.79 L320.73,57.63 L321.52,57.48 L322.31,57.32 L323.10,57.16 L323.89,57.00 L324.68,56.84 L325.47,56.69 L326.26,56.53 L327.05,56.38 L327.84,56.23 L328.63,56.08 L329.42,55.93 L330.21,55.78 L331.01,55.63 L331.80,55.48 L332.59,55.34 L333.39,55.19 L334.18,55.05 L334.97,54.91 L335.77,54.77 L336.56,54.63 L337.36,54.49 L338.15,54.35 L338.95,54.21 L339.74,54.08 L340.54,53.94 L341.34,53.81 L342.13,53.68 L342.93,53.55 L343.73,53.42 L344.52,53.29 L345.32,53.16 L346.12,53.04 L346.92,52.91 L347.72,52.79 L348.52,52.67 L349.32,52.55 L350.11,52.43 L350.91,52.31 L351.71,52.19 L352.51,52.08 L353.32,51.96 L354.12,51.85 L354.92,51.74 L355.72,51.63 L356.52,51.52 L357.32,51.41 L358.12,51.31 L358.93,51.20 L359.73,51.10 L360.53,50.99 L361.34,50.89 L362.14,50.79 L362.94,50.69 L363.75,50.59 L364.55,50.50 L365.35,50.40 L366.16,50.30 L366.96,50.21 L367.77,50.12 L368.57,50.03 L369.38,49.94 L370.19,49.85 L370.99,49.76 L371.80,49.67 L372.60,49.58 L373.41,49.50 L374.22,49.41 L375.02,49.33 L375.83,49.25 L376.64,49.17 L377.44,49.09 L378.25,49.01 L379.06,48.93 L379.87,48.85 L380.68,48.77 L381.48,48.70 L382.29,48.62 L383.10,48.55 L383.91,48.47 L384.72,48.40 L385.53,48.33 L386.34,48.26 L387.15,48.19 L387.95,48.12 L388.76,48.05 L389.57,47.98 L390.38,47.91 L391.19,47.85 L392.00,47.78 L392.81,47.72 L393.62,47.65 L394.43,47.59 L395.24,47.53 L396.06,47.46 L396.87,47.40 L397.68,47.34 L398.49,47.28 L399.30,47.22 L400.11,47.16 L400.92,47.10 L401.73,47.05 L402.54,46.99 L403.35,46.93 L404.17,46.87 L404.98,46.82 L405.79,46.76 L406.60,46.71 L407.41,46.65 L408.22,46.60 L409.04,46.55 L409.85,46.49 L410.66,46.44 L411.47,46.39 L412.28,46.34 L413.10,46.29 L413.91,46.23 L414.72,46.18 L415.53,46.13 L416.34,46.08 L417.16,46.03 L417.97,45.98 L418.78,45.94 L419.59,45.89 L420.40,45.84 L421.22,45.79 L422.03,45.74 L422.84,45.70 L423.65,45.65 L424.47,45.60 L425.28,45.56 L426.09,45.51 L426.90,45.46 L427.71,45.42 L428.53,45.37 L429.34,45.33 L430.15,45.28 L430.96,45.24 L431.78,45.20 L432.59,45.15 L433.40,45.11 L434.21,45.07 L435.03,45.02 L435.84,44.98 L436.65,44.94 L437.46,44.90 L438.28,44.86 L439.09,44.82 L439.90,44.77 L440.71,44.73 L441.53,44.69 L442.34,44.65 L443.15,44.61 L443.96,44.57 L444.78,44.54 L445.59,44.50 L446.40,44.46 L447.21,44.42 L448.03,44.38 L448.84,44.34 L449.65,44.31 L450.46,44.27 L451.28,44.23 L452.09,44.20 L452.90,44.16 L453.72,44.12 L454.53,44.09 L455.34,44.05 L456.15,44.02 L456.97,43.98 L457.78,43.95 L458.59,43.91 L459.41,43.88 L460.22,43.84 L461.03,43.81 L461.84,43.78 L462.66,43.74 L463.47,43.71 L464.28,43.68 L465.10,43.65 L465.91,43.62 L466.72,43.58 L467.53,43.55 L468.35,43.52 L469.16,43.49 L469.97,43.46 L470.79,43.43 L471.60,43.40 L472.41,43.37 L473.23,43.34 L474.04,43.31 L474.85,43.28 L475.67,43.25 L476.48,43.22 L477.29,43.19 L478.10,43.16 L478.92,43.14 L479.73,43.11 L480.54,43.08 L481.36,43.05 L482.17,43.03 L482.98,43.00 L483.80,42.97 L484.61,42.95 L485.42,42.92 L486.24,42.89 L487.05,42.87 L487.86,42.84 L488.68,42.82 L489.49,42.79 L490.30,42.77 L491.12,42.74 L491.93,42.72 L492.74,42.69 L493.56,42.67 L494.37,42.65 L495.18,42.62 L496.00,42.60 L496.81,42.58 L497.62,42.55 L498.44,42.53 L499.25,42.51 L500.06,42.49 L500.88,42.46 L501.69,42.44 L502.50,42.42 L503.32,42.40 L504.13,42.38 L504.94,42.36 L505.76,42.33 L506.57,42.31 L507.39,42.29 L508.20,42.27 L509.01,42.25 L509.83,42.23 L510.64,42.21 L511.45,42.19 L512.27,42.17 L513.08,42.16 L513.89,42.14 L514.71,42.12 L515.52,42.10 L516.33,42.08 L517.15,42.06 L517.96,42.04 L518.78,42.03 L519.59,42.01 L520.40,41.99 L521.22,41.97 L522.03,41.96 L522.84,41.94 L523.66,41.92 L524.47,41.91 L525.28,41.89 L526.10,41.87 L526.91,41.86 L527.73,41.84 L528.54,41.83 L529.35,41.81 L530.17,41.79 L530.98,41.78 L531.79,41.76 L532.61,41.75 L533.42,41.73 L534.24,41.72 L535.05,41.71 L535.86,41.69 L536.68,41.68 L537.49,41.66 L538.30,41.65 L539.12,41.64 L539.93,41.62 L540.75,41.61 L541.56,41.59 L542.37,41.58 L543.19,41.57 L544.00,41.56 L544.81,41.54 L545.63,41.53 L546.44,41.52 L547.26,41.51 L548.07,41.49 L548.88,41.48 L549.70,41.47 L550.51,41.46 L551.33,41.45 L552.14,41.43 L552.95,41.42 L553.77,41.41 L554.58,41.40 L555.40,41.39 L556.21,41.38 L557.02,41.37 L557.84,41.36 L558.65,41.35 L559.47,41.34 L560.28,41.33 L561.09,41.32 L561.91,41.31 L562.72,41.30 L563.53,41.29 L564.35,41.28 L565.16,41.27 L565.98,41.26 L566.79,41.25 L567.60,41.24 L568.42,41.23 L569.23,41.22 L570.05,41.21 L570.86,41.20 L571.67,41.19 L572.49,41.19 L573.30,41.18 L574.12,41.17 L574.93,41.16 L575.74,41.15 L576.56,41.14 L577.37,41.14 L578.19,41.13 L579.00,41.12 L579.81,41.11 L580.63,41.11 L581.44,41.10 L582.26,41.09 L583.07,41.08 L583.89,41.08 L584.70,41.07 L585.51,41.06 L586.33,41.05 L587.14,41.05 L587.96,41.04 L588.77,41.03 L589.58,41.03 L590.40,41.02 L591.21,41.01 L592.03,41.01 L592.84,41.00 L593.65,40.99 L594.47,40.99 L595.28,40.98 L596.10,40.98 L596.91,40.97 L597.72,40.96 L598.54,40.96 L599.35,40.95 L600.17,40.95 L600.98,40.94 L601.79,40.93 L602.61,40.93 L603.42,40.92 L604.24,40.92 L605.05,40.91 L605.87,40.91 L606.68,40.90 L607.49,40.90 L608.31,40.89 L609.12,40.89 L609.94,40.88 L610.75,40.88 L611.56,40.87 L612.38,40.87 L613.19,40.86 L614.01,40.86 L614.82,40.85 L615.63,40.85 L616.45,40.84 L617.26,40.84 L618.08,40.83 L618.89,40.83 L619.70,40.82 L620.52,40.82 L621.33,40.81 L622.15,40.81 L622.96,40.80 L623.78,40.80 L624.59,40.79 L625.40,40.79 L626.22,40.79 L627.03,40.78 L627.85,40.78 L628.66,40.77 L629.47,40.77 L630.29,40.76 L631.10,40.76 L631.92,40.75 L632.73,40.75 L633.54,40.75 L634.36,40.74 L635.17,40.74 L635.99,40.73 L636.80,40.73 L637.61,40.72 L638.43,40.72 L639.24,40.72 L640.06,40.71 L640.87,40.71 L641.68,40.70 L642.50,40.70 L643.31,40.69 L644.13,40.69 L644.94,40.69 L645.75,40.68 L646.57,40.68 L647.38,40.67 L648.20,40.67 L649.01,40.67 L649.83,40.66 L650.64,40.66 L651.45,40.65 L652.27,40.65 L653.08,40.64 L653.90,40.64 L654.71,40.63 L655.52,40.63 L656.34,40.63 L657.15,40.62 L657.97,40.62 L658.78,40.61 L659.59,40.61 L660.41,40.60 L661.22,40.60 L662.04,40.59 L662.85,40.59 L663.66,40.58 L664.48,40.58 L665.29,40.58 L666.11,40.57 L666.92,40.57 L667.73,40.56 L668.55,40.56 L669.36,40.55 L670.17,40.55 L670.99,40.54 L671.80,40.54 L672.62,40.53 L673.43,40.53 L674.24,40.52 L675.06,40.52 L675.87,40.51 L676.69,40.51 L677.50,40.50" stroke="#000000"/>
<path d="M102.87,431.5 L103.25,392" stroke="#000000" stroke-width="2.4"/>
<path d="M98.38,473.50 L98.39,473.01 L98.40,472.52 L98.41,472.03 L98.42,471.54 L98.43,471.06 L98.44,470.57 L98.46,470.08 L98.47,469.59 L98.48,469.10 L98.49,468.61 L98.50,468.12 L98.51,467.63 L98.52,467.14 L98.53,466.65 L98.54,466.17 L98.55,465.68 L98.56,465.19 L98.58,464.70 L98.59,464.21 L98.60,463.72 L98.61,463.23 L98.62,462.74 L98.63,462.25 L98.64,461.76 L98.65,461.28 L98.66,460.79 L98.67,460.30 L98.68,459.81 L98.69,459.32 L98.70,458.83 L98.71,458.34 L98.71,457.85 L98.72,457.36 L98.73,456.87 L98.74,456.39 L98.75,455.90 L98.76,455.41 L98.77,454.92 L98.78,454.43 L98.79,453.94 L98.79,453.45 L98.80,452.96 L98.81,452.47 L98.82,451.98 L98.83,451.49 L98.83,451.01 L98.84,450.52 L98.85,450.03 L98.86,449.54 L98.86,449.05 L98.87,448.56 L98.88,448.07 L98.88,447.58 L98.89,447.09 L98.90,446.60 L98.90,446.12 L98.91,445.63 L98.91,445.14 L98.92,444.65 L98.92,444.16 L98.93,443.67 L98.93,443.18 L98.94,442.69 L98.94,442.20 L98.95,441.71 L98.95,441.23 L98.96,440.74 L98.96,440.25 L98.97,439.76 L98.97,439.27 L98.97,438.78 L98.98,438.29 L98.98,437.80 L98.98,437.31 L98.98,436.82 L98.99,436.34 L98.99,435.85 L98.99,435.36 L98.99,434.87 L98.99,434.38 L99.00,433.89 L99.00,433.40 L99.00,432.91 L99.00,432.42 L99.00,431.93 L99.00,431.45 L99.00,430.96 L99.00,430.47 L99.00,429.98 L99.00,429.49 L99.00,429.00 L99.00,428.51 L99.00,428.02 L99.00,427.53 L99.00,427.04 L99.00,426.55 L99.00,426.07 L99.00,425.58 L99.00,425.09 L99.00,424.60 L99.00,424.11 L99.00,423.62 L99.00,423.13 L99.00,422.64 L99.00,422.15 L99.00,421.66 L99.00,421.18 L99.00,420.69 L99.00,420.20 L99.00,419.71 L99.00,419.22 L99.00,418.73 L99.00,418.24 L99.00,417.75 L99.00,417.26 L99.00,416.77 L99.00,416.28 L99.00,415.80 L99.00,415.31 L99.00,414.82 L99.00,414.33 L99.00,413.84 L99.00,413.35 L99.00,412.86 L99.00,412.37 L99.00,411.88 L99.00,411.39 L99.00,410.91 L99.00,410.42 L99.00,409.93 L99.00,409.44 L99.00,408.95 L99.00,408.46 L99.00,407.97 L99.00,407.48 L99.00,406.99 L99.00,406.50 L99.00,406.01 L99.00,405.53 L99.00,405.04 L99.00,404.55 L99.00,404.06 L99.00,403.57 L99.00,403.08 L99.00,402.59 L99.00,402.10 L99.00,401.61 L99.00,401.12 L99.00,400.64 L99.00,400.15 L99.00,399.66 L99.00,399.17 L99.00,398.68 L99.00,398.19 L99.00,397.70 L99.00,397.21 L99.00,396.72 L99.00,396.23 L99.00,395.74 L99.00,395.26 L99.00,394.77 L99.00,394.28 L99.00,393.79 L99.00,393.30 L99.00,392.81 L99.00,392.32 L99.00,391.83 L99.00,391.34 L99.00,390.85 L99.00,390.36 L99.00,389.88 L99.00,389.39 L99.00,388.90 L99.00,388.41 L99.00,387.92 L99.00,387.43 L99.00,386.94 L99.00,386.45 L99.00,385.96 L99.00,385.47 L99.00,384.99 L99.00,384.50 L99.00,384.01 L99.00,383.52 L99.01,383.03 L99.01,382.54 L99.02,382.05 L99.03,381.56 L99.03,381.07 L99.04,380.59 L99.05,380.10 L99.06,379.61 L99.07,379.12 L99.08,378.63 L99.10,378.14 L99.11,377.65 L99.12,377.16 L99.14,376.67 L99.15,376.18 L99.17,375.70 L99.19,375.21 L99.20,374.72 L99.22,374.23 L99.24,373.74 L99.26,373.25 L99.28,372.76 L99.30,372.27 L99.32,371.78 L99.35,371.30 L99.37,370.81 L99.39,370.32 L99.41,369.83 L99.44,369.34 L99.46,368.85 L99.49,368.36 L99.51,367.87 L99.54,367.38 L99.56,366.90 L99.59,366.41 L99.62,365.92 L99.64,365.43 L99.67,364.94 L99.70,364.45 L99.72,363.96 L99.75,363.47 L99.78,362.99 L99.81,362.50 L99.84,362.01 L99.86,361.52 L99.89,361.03 L99.92,360.54 L99.95,360.05 L99.98,359.57 L100.01,359.08 L100.04,358.59 L100.07,358.10 L100.10,357.61 L100.12,357.12 L100.15,356.64 L100.18,356.15 L100.21,355.66 L100.24,355.17 L100.27,354.68 L100.30,354.19 L100.33,353.71 L100.36,353.22 L100.39,352.73 L100.43,352.24 L100.46,351.75 L100.50,351.26 L100.54,350.78 L100.57,350.29 L100.61,349.80 L100.65,349.31 L100.69,348.82 L100.73,348.34 L100.78,347.85 L100.82,347.36 L100.86,346.87 L100.91,346.38 L100.95,345.90 L101.00,345.41 L101.04,344.92 L101.09,344.43 L101.14,343.94 L101.18,343.46 L101.23,342.97 L101.28,342.48 L101.33,341.99 L101.38,341.51 L101.43,341.02 L101.48,340.53 L101.53,340.04 L101.58,339.56 L101.63,339.07 L101.69,338.58 L101.74,338.10 L101.79,337.61 L101.85,337.12 L101.90,336.63 L101.95,336.15 L102.01,335.66 L102.06,335.17 L102.12,334.68 L102.17,334.19 L102.23,333.71 L102.29,333.22 L102.35,332.73 L102.41,332.24 L102.47,331.75 L102.53,331.27 L102.60,330.78 L102.67,330.29 L102.74,329.81 L102.81,329.32 L102.88,328.84 L102.96,328.35 L103.04,327.87 L103.12,327.39 L103.21,326.90 L103.30,326.42 L103.39,325.94 L103.49,325.46 L103.61,324.99 L103.75,324.51 L103.91,324.03 L104.07,323.56 L104.25,323.09 L104.43,322.61 L104.62,322.14 L104.81,321.67 L105.00,321.20 L105.19,320.73 L105.37,320.26 L105.55,319.79 L105.72,319.31 L105.88,318.84 L106.03,318.37 L106.16,317.89 L106.28,317.42 L106.38,316.94 L106.45,316.46 L106.50,315.98 L106.54,315.50 L106.57,315.01 L106.60,314.53 L106.63,314.04 L106.65,313.56 L106.67,313.07 L106.69,312.58 L106.71,312.09 L106.73,311.60 L106.74,311.11 L106.76,310.62 L106.77,310.13 L106.79,309.64 L106.80,309.15 L106.82,308.65 L106.84,308.16 L106.85,307.67 L106.88,307.18 L106.90,306.69 L106.92,306.20 L106.95,305.71 L106.98,305.23 L107.02,304.74 L107.06,304.25 L107.11,303.76 L107.17,303.28 L107.23,302.79 L107.29,302.30 L107.37,301.82 L107.44,301.33 L107.52,300.85 L107.60,300.36 L107.69,299.88 L107.77,299.39 L107.86,298.91 L107.95,298.42 L108.04,297.94 L108.13,297.46 L108.23,296.97 L108.35,296.49 L108.48,296.01 L108.61,295.54 L108.75,295.06 L108.89,294.58 L109.03,294.10 L109.16,293.62 L109.28,293.14 L109.39,292.66 L109.48,292.18 L109.55,291.70 L109.60,291.21 L109.66,290.73 L109.71,290.25 L109.76,289.76 L109.81,289.28 L109.85,288.79 L109.90,288.30 L109.94,287.82 L109.98,287.33 L110.03,286.85 L110.06,286.36 L110.10,285.87 L110.14,285.38 L110.17,284.89 L110.20,284.41 L110.23,283.92 L110.26,283.43 L110.28,282.94 L110.30,282.45 L110.32,281.96 L110.34,281.46 L110.35,280.97 L110.36,280.48 L110.37,279.99 L110.37,279.49 L110.38,279.00 L110.44,278.35 L110.51,277.69 L110.58,277.04 L110.65,276.38 L110.72,275.73 L110.79,275.07 L110.87,274.42 L110.94,273.76 L111.01,273.11 L111.09,272.45 L111.17,271.79 L111.24,271.14 L111.32,270.48 L111.40,269.83 L111.48,269.17 L111.56,268.52 L111.65,267.86 L111.73,267.21 L111.81,266.55 L111.90,265.90 L111.98,265.24 L112.07,264.59 L112.16,263.93 L112.25,263.28 L112.34,262.62 L112.43,261.97 L112.53,261.31 L112.62,260.66 L112.71,260.00 L112.81,259.35 L112.91,258.69 L113.01,258.04 L113.11,257.38 L113.21,256.73 L113.31,256.07 L113.41,255.42 L113.51,254.77 L113.62,254.11 L113.73,253.46 L113.83,252.80 L113.94,252.15 L114.05,251.50 L114.16,250.84 L114.28,250.19 L114.39,249.53 L114.50,248.88 L114.62,248.23 L114.74,247.58 L114.86,246.92 L114.98,246.27 L115.10,245.62 L115.22,244.96 L115.34,244.31 L115.47,243.66 L115.59,243.01 L115.72,242.36 L115.85,241.71 L115.98,241.05 L116.11,240.40 L116.25,239.75 L116.38,239.10 L116.52,238.45 L116.65,237.80 L116.79,237.15 L116.93,236.50 L117.07,235.85 L117.21,235.20 L117.36,234.55 L117.50,233.90 L117.65,233.25 L117.80,232.60 L117.95,231.96 L118.10,231.31 L118.25,230.66 L118.41,230.01 L118.56,229.36 L118.72,228.72 L118.88,228.07 L119.04,227.42 L119.20,226.78 L119.36,226.13 L119.53,225.49 L119.69,224.84 L119.86,224.20 L120.03,223.55 L120.20,222.91 L120.37,222.26 L120.55,221.62 L120.72,220.97 L120.90,220.33 L121.08,219.69 L121.26,219.05 L121.44,218.40 L121.62,217.76 L121.81,217.12 L121.99,216.48 L122.18,215.84 L122.37,215.20 L122.56,214.56 L122.76,213.92 L122.95,213.28 L123.15,212.64 L123.35,212.00 L123.55,211.36 L123.75,210.72 L123.95,210.09 L124.16,209.45 L124.37,208.81 L124.58,208.17 L124.79,207.54 L125.00,206.90 L125.21,206.27 L125.43,205.63 L125.65,205.00 L125.87,204.37 L126.09,203.73 L126.31,203.10 L126.53,202.47 L126.76,201.83 L126.99,201.20 L127.22,200.57 L127.45,199.94 L127.69,199.31 L127.92,198.68 L128.16,198.05 L128.40,197.42 L128.64,196.79 L128.88,196.17 L129.13,195.54 L129.38,194.91 L129.63,194.28 L129.88,193.66 L130.13,193.03 L130.39,192.41 L130.64,191.78 L130.90,191.16 L131.16,190.54 L131.42,189.91 L131.69,189.29 L131.96,188.67 L132.23,188.05 L132.50,187.43 L132.77,186.81 L133.04,186.19 L133.32,185.57 L133.60,184.95 L133.88,184.33 L134.16,183.72 L134.45,183.10 L134.74,182.48 L135.02,181.87 L135.32,181.25 L135.61,180.64 L135.90,180.02 L136.20,179.41 L136.50,178.80 L136.80,178.19 L137.10,177.58 L137.41,176.96 L137.72,176.35 L138.02,175.74 L138.34,175.14 L138.65,174.53 L138.96,173.92 L139.28,173.31 L139.60,172.71 L139.92,172.10 L140.24,171.49 L140.57,170.89 L140.90,170.29 L141.22,169.68 L141.55,169.08 L141.89,168.48 L142.22,167.87 L142.56,167.27 L142.90,166.67 L143.24,166.07 L143.58,165.48 L143.92,164.88 L144.27,164.28 L144.62,163.68 L144.97,163.09 L145.32,162.49 L145.68,161.89 L146.03,161.30 L146.39,160.71 L146.75,160.11 L147.11,159.52 L147.48,158.93 L147.84,158.34 L148.21,157.75 L148.58,157.16 L148.95,156.57 L149.32,155.98 L149.70,155.39 L150.08,154.81 L150.46,154.22 L150.84,153.64 L151.22,153.05 L151.60,152.47 L151.99,151.88 L152.38,151.30 L152.77,150.72 L153.16,150.14 L153.56,149.56 L153.95,148.98 L154.35,148.40 L154.75,147.82 L155.15,147.24 L155.56,146.67 L155.96,146.09 L156.37,145.52 L156.78,144.94 L157.19,144.37 L157.60,143.80 L158.02,143.22 L158.44,142.65 L158.86,142.08 L159.28,141.51 L159.70,140.94 L160.12,140.37 L160.55,139.81 L160.98,139.24 L161.41,138.67 L161.84,138.11 L162.28,137.55 L162.71,136.98 L163.15,136.42 L163.59,135.86 L164.03,135.30 L164.48,134.74 L164.92,134.18 L165.37,133.63 L165.82,133.07 L166.27,132.51 L166.73,131.96 L167.18,131.41 L167.64,130.85 L168.10,130.30 L168.56,129.75 L169.03,129.20 L169.49,128.66 L169.96,128.11 L170.43,127.56 L170.90,127.02 L171.38,126.47 L171.85,125.93 L172.33,125.39 L172.81,124.85 L173.29,124.31 L173.78,123.77 L174.27,123.24 L174.75,122.70 L175.24,122.17 L175.74,121.63 L176.23,121.10 L176.73,120.57 L177.23,120.04 L177.73,119.52 L178.23,118.99 L178.74,118.47 L179.25,117.94 L179.76,117.42 L180.27,116.90 L180.78,116.38 L181.30,115.86 L181.82,115.35 L182.34,114.83 L182.86,114.32 L183.38,113.81 L183.91,113.30 L184.44,112.79 L184.97,112.28 L185.51,111.78 L186.04,111.27 L186.58,110.77 L187.12,110.27 L187.66,109.77 L188.20,109.28 L188.75,108.78 L189.30,108.29 L189.85,107.80 L190.40,107.31 L190.96,106.82 L191.51,106.33 L192.07,105.85 L192.64,105.36 L193.20,104.88 L193.77,104.41 L194.33,103.93 L194.90,103.45 L195.48,102.98 L196.05,102.51 L196.63,102.04 L197.21,101.57 L197.79,101.11 L198.37,100.65 L198.96,100.18 L199.55,99.73 L200.14,99.27 L200.73,98.81 L201.33,98.36 L201.92,97.91 L202.52,97.46 L203.13,97.02 L203.73,96.57 L204.34,96.13 L204.94,95.69 L205.56,95.26 L206.17,94.82 L206.78,94.39 L207.40,93.96 L208.02,93.53 L208.64,93.11 L209.27,92.68 L209.90,92.26 L210.53,91.84 L211.16,91.43 L211.79,91.01 L212.43,90.60 L213.06,90.19 L213.70,89.79 L214.35,89.38 L214.99,88.98 L215.64,88.58 L216.29,88.18 L216.94,87.78 L217.59,87.39 L218.25,87.00 L218.90,86.61 L219.56,86.22 L220.22,85.84 L220.89,85.46 L221.55,85.08 L222.22,84.70 L222.89,84.33 L223.56,83.95 L224.23,83.58 L224.91,83.21 L225.58,82.85 L226.26,82.48 L226.94,82.12 L227.63,81.76 L228.31,81.40 L229.00,81.05 L229.68,80.69 L230.37,80.34 L231.07,79.99 L231.76,79.65 L232.46,79.30 L233.15,78.96 L233.85,78.62 L234.55,78.28 L235.25,77.94 L235.96,77.61 L236.66,77.28 L237.37,76.95 L238.08,76.62 L238.79,76.29 L239.50,75.97 L240.22,75.65 L240.93,75.33 L241.65,75.01 L242.37,74.69 L243.09,74.38 L243.81,74.07 L244.54,73.76 L245.26,73.45 L245.99,73.15 L246.72,72.85 L247.45,72.54 L248.18,72.25 L248.91,71.95 L249.64,71.65 L250.38,71.36 L251.12,71.07 L251.85,70.78 L252.59,70.49 L253.33,70.21 L254.08,69.93 L254.82,69.64 L255.57,69.37 L256.31,69.09 L257.06,68.81 L257.81,68.54 L258.56,68.27 L259.31,68.00 L260.06,67.73 L260.82,67.47 L261.57,67.20 L262.33,66.94 L263.09,66.68 L263.85,66.42 L264.61,66.17 L265.37,65.91 L266.13,65.66 L266.89,65.41 L267.66,65.16 L268.42,64.92 L269.19,64.67 L269.96,64.43 L270.73,64.19 L271.50,63.95 L272.27,63.71 L273.04,63.48 L273.81,63.24 L274.59,63.01 L275.36,62.78 L276.14,62.56 L276.91,62.33 L277.69,62.11 L278.47,61.88 L279.25,61.66 L280.03,61.44 L280.81,61.23 L281.59,61.01 L282.38,60.80 L283.16,60.59 L283.94,60.38 L284.73,60.17 L285.52,59.96 L286.30,59.76 L287.09,59.55 L287.88,59.35 L288.67,59.15 L289.46,58.96 L290.25,58.76 L291.04,58.57 L291.83,58.37 L292.63,58.18 L293.42,57.99 L294.21,57.81 L295.01,57.62 L295.80,57.44 L296.60,57.25 L297.40,57.07 L298.19,56.89 L298.99,56.72 L299.79,56.54 L300.59,56.37 L301.39,56.19 L302.19,56.02 L302.99,55.85 L303.79,55.69 L304.59,55.52 L305.39,55.36 L306.19,55.20 L306.99,55.03 L307.80,54.87 L308.60,54.72 L309.40,54.56 L310.21,54.41 L311.01,54.25 L311.82,54.10 L312.62,53.95 L313.43,53.80 L314.23,53.66 L315.04,53.51 L315.84,53.37 L316.65,53.23 L317.46,53.09 L318.26,52.95 L319.07,52.81 L319.88,52.67 L320.69,52.54 L321.49,52.41 L322.30,52.28 L323.11,52.15 L323.92,52.02 L324.73,51.89 L325.54,51.76 L326.35,51.64 L327.15,51.52 L327.96,51.40 L328.77,51.27 L329.58,51.16 L330.39,51.04 L331.21,50.92 L332.02,50.81 L332.83,50.69 L333.64,50.58 L334.45,50.47 L335.26,50.36 L336.07,50.25 L336.89,50.15 L337.70,50.04 L338.51,49.94 L339.32,49.83 L340.14,49.73 L340.95,49.63 L341.76,49.53 L342.58,49.43 L343.39,49.33 L344.20,49.24 L345.02,49.14 L345.83,49.05 L346.65,48.95 L347.46,48.86 L348.28,48.77 L349.09,48.68 L349.91,48.59 L350.72,48.51 L351.54,48.42 L352.35,48.33 L353.17,48.25 L353.98,48.17 L354.80,48.08 L355.62,48.00 L356.43,47.92 L357.25,47.84 L358.07,47.77 L358.88,47.69 L359.70,47.61 L360.52,47.54 L361.33,47.46 L362.15,47.39 L362.97,47.31 L363.79,47.24 L364.61,47.17 L365.42,47.10 L366.24,47.03 L367.06,46.96 L367.88,46.90 L368.70,46.83 L369.51,46.76 L370.33,46.70 L371.15,46.63 L371.97,46.57 L372.79,46.51 L373.61,46.44 L374.43,46.38 L375.25,46.32 L376.07,46.26 L376.89,46.20 L377.71,46.14 L378.53,46.09 L379.35,46.03 L380.17,45.97 L380.99,45.92 L381.81,45.86 L382.63,45.81 L383.45,45.75 L384.27,45.70 L385.09,45.65 L385.91,45.59 L386.73,45.54 L387.55,45.49 L388.37,45.44 L389.19,45.39 L390.01,45.34 L390.83,45.29 L391.65,45.24 L392.47,45.19 L393.29,45.15 L394.12,45.10 L394.94,45.05 L395.76,45.01 L396.58,44.96 L397.40,44.92 L398.22,44.87 L399.04,44.83 L399.87,44.79 L400.69,44.74 L401.51,44.70 L402.33,44.66 L403.15,44.62 L403.97,44.58 L404.80,44.53 L405.62,44.49 L406.44,44.46 L407.26,44.42 L408.08,44.38 L408.91,44.34 L409.73,44.30 L410.55,44.26 L411.37,44.23 L412.20,44.19 L413.02,44.15 L413.84,44.12 L414.66,44.08 L415.49,44.05 L416.31,44.01 L417.13,43.98 L417.95,43.95 L418.78,43.91 L419.60,43.88 L420.42,43.85 L421.24,43.82 L422.07,43.79 L422.89,43.75 L423.71,43.72 L424.54,43.69 L425.36,43.66 L426.18,43.63 L427.01,43.60 L427.83,43.58 L428.65,43.55 L429.48,43.52 L430.30,43.49 L431.12,43.46 L431.95,43.44 L432.77,43.41 L433.59,43.38 L434.42,43.36 L435.24,43.33 L436.06,43.30 L436.89,43.28 L437.71,43.25 L438.53,43.23 L439.36,43.21 L440.18,43.18 L441.01,43.16 L441.83,43.13 L442.65,43.11 L443.48,43.09 L444.30,43.07 L445.12,43.04 L445.95,43.02 L446.77,43.00 L447.60,42.98 L448.42,42.96 L449.24,42.94 L450.07,42.92 L450.89,42.89 L451.72,42.87 L452.54,42.85 L453.36,42.83 L454.19,42.81 L455.01,42.80 L455.84,42.78 L456.66,42.76 L457.49,42.74 L458.31,42.72 L459.13,42.70 L459.96,42.68 L460.78,42.67 L461.61,42.65 L462.43,42.63 L463.26,42.61 L464.08,42.60 L464.90,42.58 L465.73,42.56 L466.55,42.55 L467.38,42.53 L468.20,42.51 L469.03,42.50 L469.85,42.48 L470.68,42.47 L471.50,42.45 L472.32,42.43 L473.15,42.42 L473.97,42.40 L474.80,42.39 L475.62,42.37 L476.45,42.36 L477.27,42.34 L478.10,42.33 L478.92,42.32 L479.74,42.30 L480.57,42.29 L481.39,42.27 L482.22,42.26 L483.04,42.24 L483.87,42.23 L484.69,42.22 L485.52,42.20 L486.34,42.19 L487.16,42.18 L487.99,42.16 L488.81,42.15 L489.64,42.14 L490.46,42.12 L491.29,42.11 L492.11,42.10 L492.94,42.08 L493.76,42.07 L494.58,42.06 L495.41,42.04 L496.23,42.03 L497.06,42.02 L497.88,42.00 L498.71,41.99 L499.53,41.98 L500.35,41.97 L501.18,41.95 L502.00,41.94 L502.83,41.93 L503.65,41.91 L504.48,41.90 L505.30,41.89 L506.12,41.88 L506.95,41.86 L507.77,41.85 L508.60,41.84 L509.42,41.82 L510.25,41.81 L511.07,41.80 L511.89,41.79 L512.72,41.77 L513.54,41.76 L514.37,41.75 L515.19,41.73 L516.01,41.72 L516.84,41.71 L517.66,41.70 L518.49,41.68 L519.31,41.67 L520.13,41.66 L520.96,41.65 L521.78,41.63 L522.61,41.62 L523.43,41.61 L524.25,41.60 L525.08,41.58 L525.90,41.57 L526.73,41.56 L527.55,41.55 L528.37,41.53 L529.20,41.52 L530.02,41.51 L530.85,41.50 L531.67,41.48 L532.49,41.47 L533.32,41.46 L534.14,41.45 L534.97,41.44 L535.79,41.42 L536.61,41.41 L537.44,41.40 L538.26,41.39 L539.08,41.38 L539.91,41.36 L540.73,41.35 L541.56,41.34 L542.38,41.33 L543.20,41.32 L544.03,41.30 L544.85,41.29 L545.67,41.28 L546.50,41.27 L547.32,41.26 L548.15,41.25 L548.97,41.24 L549.79,41.22 L550.62,41.21 L551.44,41.20 L552.26,41.19 L553.09,41.18 L553.91,41.17 L554.74,41.16 L555.56,41.15 L556.38,41.14 L557.21,41.12 L558.03,41.11 L558.85,41.10 L559.68,41.09 L560.50,41.08 L561.33,41.07 L562.15,41.06 L562.97,41.05 L563.80,41.04 L564.62,41.03 L565.44,41.02 L566.27,41.01 L567.09,41.00 L567.91,40.99 L568.74,40.98 L569.56,40.97 L570.39,40.96 L571.21,40.95 L572.03,40.94 L572.86,40.93 L573.68,40.92 L574.50,40.91 L575.33,40.90 L576.15,40.89 L576.97,40.88 L577.80,40.87 L578.62,40.86 L579.45,40.85 L580.27,40.85 L581.09,40.84 L581.92,40.83 L582.74,40.82 L583.56,40.81 L584.39,40.80 L585.21,40.79 L586.04,40.78 L586.86,40.78 L587.68,40.77 L588.51,40.76 L589.33,40.75 L590.15,40.74 L590.98,40.73 L591.80,40.73 L592.62,40.72 L593.45,40.71 L594.27,40.70 L595.10,40.70 L595.92,40.69 L596.74,40.68 L597.57,40.67 L598.39,40.67 L599.21,40.66 L600.04,40.65 L600.86,40.65 L601.68,40.64 L602.51,40.63 L603.33,40.62 L604.16,40.62 L604.98,40.61 L605.80,40.61 L606.63,40.60 L607.45,40.59 L608.27,40.59 L609.10,40.58 L609.92,40.57 L610.75,40.57 L611.57,40.56 L612.39,40.56 L613.22,40.55 L614.04,40.55 L614.86,40.54 L615.69,40.54 L616.51,40.53 L617.34,40.53 L618.16,40.52 L618.98,40.52 L619.81,40.51 L620.63,40.51 L621.45,40.50 L622.28,40.50 L623.10,40.50 L623.93,40.50 L624.75,40.50 L625.57,40.50 L626.40,40.50 L627.22,40.50 L628.05,40.50 L628.87,40.50 L629.69,40.50 L630.52,40.50 L631.34,40.50 L632.17,40.50 L632.99,40.50 L633.81,40.50 L634.64,40.50 L635.46,40.50 L636.29,40.50 L637.11,40.50 L637.93,40.50 L638.76,40.50 L639.58,40.50 L640.41,40.50 L641.23,40.50 L642.05,40.50 L642.88,40.50 L643.70,40.50 L644.53,40.50 L645.35,40.50 L646.17,40.50 L647.00,40.50 L647.82,40.50 L648.65,40.50 L649.47,40.50 L650.29,40.50 L651.12,40.50 L651.94,40.50 L652.77,40.50 L653.59,40.50 L654.42,40.50 L655.24,40.50 L656.06,40.50 L656.89,40.50 L657.71,40.50 L658.54,40.50 L659.36,40.50 L660.19,40.50 L661.01,40.50 L661.83,40.50 L662.66,40.50 L663.48,40.50 L664.31,40.50 L665.13,40.50 L665.96,40.50 L666.78,40.50 L667.61,40.50 L668.43,40.50 L669.25,40.50 L670.08,40.50 L670.90,40.50 L671.73,40.50 L672.55,40.50 L673.38,40.50 L674.20,40.50 L675.03,40.50 L675.85,40.50 L676.68,40.50 L677.50,40.50" stroke="#ff00ff" stroke-dasharray="3 3"/>
<path d="M101.50,404.00 L101.50,403.20 L101.50,402.40 L101.50,401.60 L101.50,400.80 L101.50,400.00 L101.50,399.20 L101.50,398.41 L101.50,397.61 L101.50,396.81 L101.50,396.01 L101.50,395.21 L101.50,394.41 L101.50,393.61 L101.50,392.81 L101.50,392.01 L101.50,391.21 L101.50,390.41 L101.50,389.61 L101.50,388.82 L101.50,388.02 L101.50,387.22 L101.50,386.42 L101.50,385.62 L101.50,384.82 L101.50,384.02 L101.51,383.22 L101.51,382.42 L101.52,381.62 L101.54,380.83 L101.55,380.03 L101.57,379.23 L101.59,378.43 L101.61,377.63 L101.63,376.83 L101.66,376.03 L101.69,375.23 L101.71,374.43 L101.75,373.64 L101.78,372.84 L101.81,372.04 L101.85,371.24 L101.88,370.44 L101.92,369.64 L101.96,368.84 L102.00,368.04 L102.04,367.24 L102.09,366.45 L102.13,365.65 L102.17,364.85 L102.22,364.05 L102.26,363.25 L102.31,362.45 L102.36,361.65 L102.40,360.86 L102.45,360.06 L102.50,359.26 L102.55,358.46 L102.59,357.66 L102.64,356.86 L102.69,356.07 L102.73,355.27 L102.78,354.47 L102.83,353.67 L102.89,352.88 L102.94,352.08 L103.00,351.28 L103.07,350.48 L103.13,349.69 L103.20,348.89 L103.27,348.09 L103.34,347.29 L103.41,346.50 L103.49,345.70 L103.56,344.90 L103.64,344.11 L103.72,343.31 L103.80,342.51 L103.88,341.71 L103.96,340.92 L104.04,340.12 L104.12,339.32 L104.20,338.53 L104.28,337.73 L104.36,336.94 L104.44,336.14 L104.53,335.34 L104.61,334.55 L104.70,333.75 L104.79,332.96 L104.88,332.16 L104.97,331.36 L105.07,330.57 L105.16,329.77 L105.26,328.98 L105.35,328.18 L105.45,327.39 L105.55,326.59 L105.65,325.80 L105.75,325.00" stroke="#ff00ff" stroke-width="5.6" stroke-dasharray="3 3" stroke-dashoffset="0.94"/>
</g>
<text transform="translate(71.70,46.40) scale(0.8,1)" font-family="Liberation Sans, sans-serif" font-size="20.2" text-anchor="end" fill="#262626">1</text>
<text transform="translate(73.20,120.40) scale(0.8,1)" font-family="Liberation Sans, sans-serif" font-size="20.2" text-anchor="end" fill="#262626">0.95</text>
<text transform="translate(73.20,194.40) scale(0.8,1)" font-family="Liberation Sans, sans-serif" font-size="20.2" text-anchor="end" fill="#262626">0.9</text>
<text transform="translate(73.20,268.40) scale(0.8,1)" font-family="Liberation Sans, sans-serif" font-size="20.2" text-anchor="end" fill="#262626">0.85</text>
<text transform="translate(73.20,342.40) scale(0.8,1)" font-family="Liberation Sans, sans-serif" font-size="20.2" text-anchor="end" fill="#262626">0.8</text>
<text transform="translate(73.20,416.40) scale(0.8,1)" font-family="Liberation Sans, sans-serif" font-size="20.2" text-anchor="end" fill="#262626">0.75</text>
<text transform="translate(73.20,490.40) scale(0.8,1)" font-family="Liberation Sans, sans-serif" font-size="20.2" text-anchor="end" fill="#262626">0.7</text>
<text transform="translate(78.00,506.20) scale(0.8,1)" font-family="Liberation Sans, sans-serif" font-size="20.2" text-anchor="middle" fill="#262626">0</text>
<text transform="translate(170.80,506.20) scale(0.8,1)" font-family="Liberation Sans, sans-serif" font-size="20.2" text-anchor="middle" fill="#262626">200</text>
<text transform="translate(263.60,506.20) scale(0.8,1)" font-family="Liberation Sans, sans-serif" font-size="20.2" text-anchor="middle" fill="#262626">400</text>
<text transform="translate(356.40,506.20) scale(0.8,1)" font-family="Liberation Sans, sans-serif" font-size="20.2" text-anchor="middle" fill="#262626">600</text>
<text transform="translate(449.20,506.20) scale(0.8,1)" font-family="Liberation Sans, sans-serif" font-size="20.2" text-anchor="middle" fill="#262626">800</text>
<text transform="translate(542.00,506.20) scale(0.8,1)" font-family="Liberation Sans, sans-serif" font-size="20.2" text-anchor="middle" fill="#262626">1000</text>
<text transform="translate(33,263) rotate(-90) scale(1,0.8)" font-family="Liberation Serif, serif" font-size="21.6" text-anchor="middle" textLength="74" lengthAdjust="spacingAndGlyphs" fill="#2a2a2a">Fidelity</text>
<g transform="translate(300,500) scale(0.05516)" fill="none" stroke="#151515" stroke-linejoin="round">
<path d="M105,238 C112,185 135,130 168,130 C190,130 198,150 192,178" stroke-width="20" stroke-linecap="round"/>
<path d="M193,165 L150,438" stroke-width="39" stroke-linecap="butt"/>
<path d="M178,315 C205,215 262,130 318,130 C338,130 350,140 357,158" stroke-width="20" stroke-linecap="round"/>
<path d="M350,150 C372,175 374,200 362,242 L316,390 C306,425 318,440 338,440" stroke-width="36" stroke-linecap="round"/>
<path d="M338,441 C370,441 395,385 410,335" stroke-width="20" stroke-linecap="round"/>
</g>
<g fill="none" stroke-width="3.3" stroke-linecap="butt">
<path transform="scale(0.8,1)" d="M342.62,150.3 L373.50,150.3" stroke="#0000ff" stroke-dasharray="12 12.3"/>
<path transform="scale(0.8,1)" d="M342.62,168.9 L373.50,168.9" stroke="#ff0000" stroke-dasharray="12.1 3.3 5.6 3.3"/>
<path transform="scale(0.8,1)" d="M342.62,188.4 L373.50,188.4" stroke="#000000"/>
<path transform="scale(0.8,1)" d="M342.62,207.4 L373.50,207.4" stroke="#ff00ff" stroke-dasharray="3.13 3.13"/>
</g>
<g transform="translate(310,146.75) scale(0.8,1)"><g fill="#111" stroke="none"><text transform="translate(4.19,-7.6) scale(1.2,1)" font-family="Liberation Serif, serif" font-size="13.2" text-anchor="middle" stroke="#111" stroke-width="0.2">1</text><rect x="0.13" y="-5.5" width="8.37" height="0.85"/><text transform="translate(4.38,6.6) scale(1.2,1)" font-family="Liberation Serif, serif" font-size="13.2" text-anchor="middle" stroke="#111" stroke-width="0.2">2</text><path d="M17.25,-14.65 Q6.25,-4.85 17.25,4.95 L17.60,4.95 Q9.37,-4.85 17.60,-14.65 Z"/><path d="M76.50,-14.65 Q87.50,-4.85 76.50,4.95 L76.15,4.95 Q84.38,-4.85 76.15,-14.65 Z"/><rect x="22.37" y="-12.5" width="1.75" height="12.3"/><rect x="25.82" y="-12.5" width="0.65" height="12.3"/><rect x="22.37" y="-12.6" width="4.10" height="0.6"/><path d="M19.13,-10.7 L22.67,-12.6 L22.67,-11.2 L19.13,-9.9 Z"/><rect x="19.13" y="-0.75" width="9.31" height="0.85"/><rect x="35.00" y="-5.25" width="14.25" height="1.0"/><rect x="41.57" y="-11.1" width="1.1" height="12.9"/><text transform="translate(54.38,0) scale(1.37,1)" font-family="Liberation Serif, serif" font-style="italic" font-size="15.9" stroke="#111" stroke-width="0.25">σ</text><text transform="translate(67.37,2.9) scale(1.43,1)" font-family="Liberation Serif, serif" font-style="italic" font-size="11" stroke="#111" stroke-width="0.2">x</text></g></g>
<g transform="translate(310,171.75) scale(0.8,1)"><g fill="#111" stroke="none"><text transform="translate(4.19,-7.6) scale(1.2,1)" font-family="Liberation Serif, serif" font-size="13.2" text-anchor="middle" stroke="#111" stroke-width="0.2">1</text><rect x="0.13" y="-5.5" width="8.37" height="0.85"/><text transform="translate(4.38,6.6) scale(1.2,1)" font-family="Liberation Serif, serif" font-size="13.2" text-anchor="middle" stroke="#111" stroke-width="0.2">2</text><path d="M17.25,-14.65 Q6.25,-4.85 17.25,4.95 L17.60,4.95 Q9.37,-4.85 17.60,-14.65 Z"/><path d="M76.50,-14.65 Q87.50,-4.85 76.50,4.95 L76.15,4.95 Q84.38,-4.85 76.15,-14.65 Z"/><rect x="22.37" y="-12.5" width="1.75" height="12.3"/><rect x="25.82" y="-12.5" width="0.65" height="12.3"/><rect x="22.37" y="-12.6" width="4.10" height="0.6"/><path d="M19.13,-10.7 L22.67,-12.6 L22.67,-11.2 L19.13,-9.9 Z"/><rect x="19.13" y="-0.75" width="9.31" height="0.85"/><rect x="35.00" y="-5.25" width="14.25" height="1.0"/><text transform="translate(54.38,0) scale(1.37,1)" font-family="Liberation Serif, serif" font-style="italic" font-size="15.9" stroke="#111" stroke-width="0.25">σ</text><text transform="translate(67.37,2.9) scale(1.43,1)" font-family="Liberation Serif, serif" font-style="italic" font-size="11" stroke="#111" stroke-width="0.2">x</text></g></g>
<g transform="translate(310,198.0) scale(0.8,1)"><g fill="#111" stroke="none"><text transform="translate(4.19,-7.6) scale(1.2,1)" font-family="Liberation Serif, serif" font-size="13.2" text-anchor="middle" stroke="#111" stroke-width="0.2">1</text><rect x="0.13" y="-5.5" width="8.37" height="0.85"/><text transform="translate(4.38,6.6) scale(1.2,1)" font-family="Liberation Serif, serif" font-size="13.2" text-anchor="middle" stroke="#111" stroke-width="0.2">2</text><path d="M17.25,-14.65 Q6.25,-4.85 17.25,4.95 L17.60,4.95 Q9.37,-4.85 17.60,-14.65 Z"/><path d="M76.50,-14.65 Q87.50,-4.85 76.50,4.95 L76.15,4.95 Q84.38,-4.85 76.15,-14.65 Z"/><rect x="22.37" y="-12.5" width="1.75" height="12.3"/><rect x="25.82" y="-12.5" width="0.65" height="12.3"/><rect x="22.37" y="-12.6" width="4.10" height="0.6"/><path d="M19.13,-10.7 L22.67,-12.6 L22.67,-11.2 L19.13,-9.9 Z"/><rect x="19.13" y="-0.75" width="9.31" height="0.85"/><rect x="35.00" y="-5.25" width="14.25" height="1.0"/><rect x="41.57" y="-11.1" width="1.1" height="12.9"/><text transform="translate(54.38,0) scale(1.37,1)" font-family="Liberation Serif, serif" font-style="italic" font-size="15.9" stroke="#111" stroke-width="0.25">σ</text><text transform="translate(67.37,2.9) scale(1.43,1)" font-family="Liberation Serif, serif" font-style="italic" font-size="11" stroke="#111" stroke-width="0.2">x</text></g></g>
<g transform="translate(310,226.1) scale(0.8,1)"><g fill="#111" stroke="none"><text transform="translate(4.19,-7.6) scale(1.2,1)" font-family="Liberation Serif, serif" font-size="13.2" text-anchor="middle" stroke="#111" stroke-width="0.2">1</text><rect x="0.13" y="-5.5" width="8.37" height="0.85"/><text transform="translate(4.38,6.6) scale(1.2,1)" font-family="Liberation Serif, serif" font-size="13.2" text-anchor="middle" stroke="#111" stroke-width="0.2">2</text><path d="M17.25,-14.65 Q6.25,-4.85 17.25,4.95 L17.60,4.95 Q9.37,-4.85 17.60,-14.65 Z"/><path d="M76.50,-14.65 Q87.50,-4.85 76.50,4.95 L76.15,4.95 Q84.38,-4.85 76.15,-14.65 Z"/><rect x="22.37" y="-12.5" width="1.75" height="12.3"/><rect x="25.82" y="-12.5" width="0.65" height="12.3"/><rect x="22.37" y="-12.6" width="4.10" height="0.6"/><path d="M19.13,-10.7 L22.67,-12.6 L22.67,-11.2 L19.13,-9.9 Z"/><rect x="19.13" y="-0.75" width="9.31" height="0.85"/><rect x="35.00" y="-5.25" width="14.25" height="1.0"/><text transform="translate(54.38,0) scale(1.37,1)" font-family="Liberation Serif, serif" font-style="italic" font-size="15.9" stroke="#111" stroke-width="0.25">σ</text><text transform="translate(67.37,2.9) scale(1.43,1)" font-family="Liberation Serif, serif" font-style="italic" font-size="11" stroke="#111" stroke-width="0.2">x</text></g></g>
</svg>
</body></html>
